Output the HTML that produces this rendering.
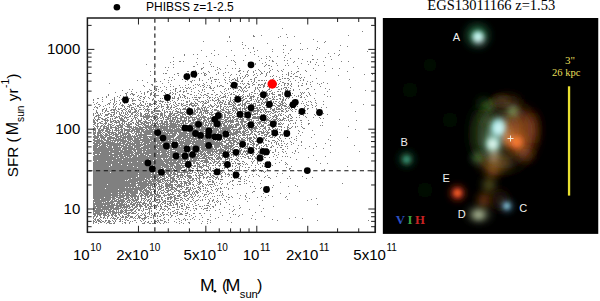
<!DOCTYPE html>
<html><head><meta charset="utf-8"><style>
html,body{margin:0;padding:0;background:#fff;}
body{width:600px;height:301px;position:relative;overflow:hidden;}
</style></head><body>

<svg width="600" height="301" viewBox="0 0 600 301" style="position:absolute;left:0;top:0">
<path d="M282 28h1v1h-1zM362 31h1v1h-1zM286 34h1v1h-1zM253 35h1v1h-1zM261 35h1v1h-1zM348 35h1v1h-1zM229 36h1v1h-1zM253 36h2v1h-2zM280 36h1v1h-1zM294 36h1v1h-1zM229 37h1v1h-1zM278 37h1v1h-1zM287 37h1v1h-1zM313 39h1v1h-1zM203 41h1v1h-1zM227 41h1v1h-1zM230 41h1v1h-1zM317 41h1v1h-1zM325 41h1v1h-1zM242 42h1v1h-1zM324 42h1v1h-1zM267 43h1v1h-1zM300 43h1v1h-1zM242 44h1v1h-1zM245 45h1v1h-1zM283 45h1v1h-1zM285 45h1v1h-1zM340 45h1v1h-1zM347 46h1v1h-1zM253 47h1v1h-1zM317 47h1v1h-1zM243 48h1v1h-1zM248 48h1v1h-1zM253 48h1v1h-1zM307 48h1v1h-1zM319 48h1v1h-1zM272 49h1v1h-1zM283 49h1v1h-1zM291 49h1v1h-1zM300 49h1v1h-1zM302 49h1v1h-1zM316 49h1v1h-1zM201 50h1v1h-1zM214 50h1v1h-1zM231 50h1v1h-1zM257 50h1v1h-1zM290 50h1v1h-1zM339 50h1v1h-1zM254 51h1v1h-1zM272 51h1v1h-1zM367 51h1v1h-1zM250 52h1v1h-1zM283 52h1v1h-1zM211 53h1v1h-1zM288 53h1v1h-1zM328 53h1v1h-1zM334 53h1v1h-1zM184 54h1v1h-1zM193 54h1v1h-1zM197 54h1v1h-1zM218 54h1v1h-1zM254 54h1v1h-1zM339 54h1v1h-1zM184 55h1v1h-1zM214 55h1v1h-1zM234 55h1v1h-1zM245 55h1v1h-1zM285 55h1v1h-1zM312 55h1v1h-1zM338 55h1v1h-1zM206 56h1v1h-1zM226 56h1v1h-1zM258 56h1v1h-1zM266 56h1v1h-1zM269 56h1v1h-1zM277 56h1v1h-1zM330 56h1v1h-1zM173 57h1v1h-1zM270 57h1v1h-1zM284 57h1v1h-1zM325 57h1v1h-1zM197 58h1v1h-1zM261 58h1v1h-1zM266 58h1v1h-1zM290 58h1v1h-1zM298 58h1v1h-1zM302 59h1v1h-1zM312 59h2v1h-2zM317 59h1v1h-1zM331 59h1v1h-1zM231 60h1v1h-1zM233 60h1v1h-1zM243 60h1v1h-1zM259 60h1v1h-1zM269 60h1v1h-1zM272 60h1v1h-1zM284 60h1v1h-1zM287 60h1v1h-1zM173 61h1v1h-1zM179 61h2v1h-2zM183 61h1v1h-1zM209 61h1v1h-1zM234 61h1v1h-1zM272 61h2v1h-2zM294 61h1v1h-1zM307 61h1v1h-1zM310 61h1v1h-1zM323 61h1v1h-1zM341 61h1v1h-1zM348 61h1v1h-1zM170 62h1v1h-1zM196 62h1v1h-1zM211 62h1v1h-1zM235 62h1v1h-1zM248 62h1v1h-1zM265 62h1v1h-1zM293 62h1v1h-1zM310 62h1v1h-1zM316 62h1v1h-1zM203 63h1v1h-1zM255 63h1v1h-1zM262 63h1v1h-1zM276 63h1v1h-1zM287 63h1v1h-1zM301 63h1v1h-1zM146 64h1v1h-1zM173 64h1v1h-1zM197 64h1v1h-1zM210 64h1v1h-1zM235 64h1v1h-1zM255 64h1v1h-1zM266 64h1v1h-1zM308 64h1v1h-1zM315 64h1v1h-1zM227 65h1v1h-1zM265 65h1v1h-1zM268 65h2v1h-2zM277 65h1v1h-1zM285 65h1v1h-1zM288 65h1v1h-1zM318 65h1v1h-1zM324 65h1v1h-1zM193 66h2v1h-2zM211 66h1v1h-1zM213 66h1v1h-1zM253 66h1v1h-1zM264 66h1v1h-1zM271 66h1v1h-1zM297 66h1v1h-1zM165 67h1v1h-1zM168 67h1v1h-1zM173 67h1v1h-1zM203 67h1v1h-1zM217 67h1v1h-1zM353 67h1v1h-1zM154 68h1v1h-1zM201 68h2v1h-2zM219 68h1v1h-1zM225 68h1v1h-1zM232 68h1v1h-1zM235 68h1v1h-1zM239 68h1v1h-1zM269 68h1v1h-1zM298 68h1v1h-1zM313 68h1v1h-1zM332 68h1v1h-1zM339 68h1v1h-1zM201 69h1v1h-1zM217 69h1v1h-1zM220 69h1v1h-1zM258 69h1v1h-1zM272 69h1v1h-1zM283 69h1v1h-1zM167 70h1v1h-1zM195 70h1v1h-1zM215 70h1v1h-1zM239 70h2v1h-2zM248 70h1v1h-1zM255 70h1v1h-1zM259 70h1v1h-1zM270 70h1v1h-1zM277 70h1v1h-1zM281 70h1v1h-1zM305 70h1v1h-1zM315 70h1v1h-1zM150 71h1v1h-1zM187 71h2v1h-2zM208 71h1v1h-1zM238 71h2v1h-2zM243 71h1v1h-1zM247 71h1v1h-1zM253 71h1v1h-1zM260 71h1v1h-1zM264 71h1v1h-1zM269 71h1v1h-1zM278 71h1v1h-1zM282 71h1v1h-1zM291 71h1v1h-1zM297 71h2v1h-2zM306 71h1v1h-1zM325 71h1v1h-1zM347 71h1v1h-1zM203 72h1v1h-1zM209 72h1v1h-1zM218 72h1v1h-1zM225 72h1v1h-1zM228 72h1v1h-1zM247 72h1v1h-1zM253 72h1v1h-1zM261 72h1v1h-1zM267 72h1v1h-1zM269 72h1v1h-1zM288 72h1v1h-1zM296 72h1v1h-1zM163 73h1v1h-1zM165 73h2v1h-2zM177 73h2v1h-2zM186 73h1v1h-1zM188 73h1v1h-1zM198 73h1v1h-1zM201 73h1v1h-1zM204 73h2v1h-2zM218 73h1v1h-1zM223 73h1v1h-1zM240 73h1v1h-1zM256 73h1v1h-1zM261 73h2v1h-2zM266 73h1v1h-1zM288 73h1v1h-1zM291 73h1v1h-1zM294 73h1v1h-1zM174 74h1v1h-1zM204 74h1v1h-1zM206 74h1v1h-1zM216 74h1v1h-1zM231 74h1v1h-1zM236 74h1v1h-1zM246 74h2v1h-2zM254 74h1v1h-1zM260 74h1v1h-1zM266 74h1v1h-1zM282 74h1v1h-1zM286 74h1v1h-1zM288 74h1v1h-1zM293 74h1v1h-1zM300 74h1v1h-1zM364 74h1v1h-1zM372 74h1v1h-1zM150 75h1v1h-1zM178 75h1v1h-1zM204 75h2v1h-2zM223 75h1v1h-1zM230 75h1v1h-1zM239 75h1v1h-1zM245 75h1v1h-1zM248 75h1v1h-1zM253 75h1v1h-1zM257 75h1v1h-1zM266 75h1v1h-1zM273 75h1v1h-1zM288 75h1v1h-1zM310 75h1v1h-1zM338 75h1v1h-1zM189 76h1v1h-1zM242 76h1v1h-1zM245 76h1v1h-1zM247 76h1v1h-1zM265 76h1v1h-1zM270 76h1v1h-1zM272 76h1v1h-1zM276 76h1v1h-1zM282 76h1v1h-1zM290 76h2v1h-2zM295 76h3v1h-3zM169 77h1v1h-1zM172 77h1v1h-1zM194 77h2v1h-2zM210 77h1v1h-1zM212 77h1v1h-1zM225 77h1v1h-1zM229 77h1v1h-1zM237 77h1v1h-1zM240 77h1v1h-1zM244 77h1v1h-1zM255 77h2v1h-2zM279 77h1v1h-1zM299 77h1v1h-1zM301 77h1v1h-1zM304 77h1v1h-1zM154 78h1v1h-1zM199 78h1v1h-1zM210 78h1v1h-1zM234 78h1v1h-1zM237 78h1v1h-1zM240 78h1v1h-1zM243 78h1v1h-1zM254 78h1v1h-1zM273 78h1v1h-1zM282 78h1v1h-1zM284 78h2v1h-2zM287 78h2v1h-2zM293 78h1v1h-1zM300 78h1v1h-1zM316 78h1v1h-1zM164 79h1v1h-1zM174 79h1v1h-1zM182 79h1v1h-1zM199 79h1v1h-1zM208 79h1v1h-1zM214 79h3v1h-3zM218 79h1v1h-1zM224 79h1v1h-1zM229 79h1v1h-1zM232 79h2v1h-2zM235 79h1v1h-1zM237 79h1v1h-1zM250 79h2v1h-2zM254 79h1v1h-1zM272 79h1v1h-1zM279 79h2v1h-2zM289 79h1v1h-1zM303 79h1v1h-1zM349 79h1v1h-1zM137 80h1v1h-1zM142 80h1v1h-1zM168 80h1v1h-1zM171 80h1v1h-1zM187 80h1v1h-1zM192 80h1v1h-1zM194 80h1v1h-1zM199 80h1v1h-1zM202 80h1v1h-1zM211 80h1v1h-1zM225 80h1v1h-1zM231 80h1v1h-1zM235 80h3v1h-3zM242 80h1v1h-1zM254 80h1v1h-1zM258 80h2v1h-2zM261 80h2v1h-2zM264 80h1v1h-1zM266 80h1v1h-1zM270 80h1v1h-1zM277 80h1v1h-1zM288 80h1v1h-1zM295 80h1v1h-1zM300 80h1v1h-1zM303 80h1v1h-1zM156 81h1v1h-1zM160 81h1v1h-1zM185 81h1v1h-1zM190 81h2v1h-2zM211 81h1v1h-1zM215 81h1v1h-1zM229 81h1v1h-1zM237 81h2v1h-2zM241 81h2v1h-2zM248 81h1v1h-1zM251 81h1v1h-1zM254 81h1v1h-1zM280 81h1v1h-1zM290 81h1v1h-1zM307 81h1v1h-1zM312 81h1v1h-1zM147 82h1v1h-1zM168 82h1v1h-1zM191 82h1v1h-1zM206 82h1v1h-1zM219 82h1v1h-1zM225 82h1v1h-1zM230 82h1v1h-1zM253 82h1v1h-1zM256 82h1v1h-1zM265 82h1v1h-1zM268 82h1v1h-1zM271 82h2v1h-2zM282 82h2v1h-2zM298 82h1v1h-1zM310 82h1v1h-1zM323 82h1v1h-1zM109 83h1v1h-1zM162 83h1v1h-1zM203 83h1v1h-1zM211 83h1v1h-1zM227 83h1v1h-1zM234 83h1v1h-1zM237 83h1v1h-1zM240 83h1v1h-1zM242 83h1v1h-1zM244 83h1v1h-1zM247 83h2v1h-2zM252 83h1v1h-1zM264 83h2v1h-2zM276 83h1v1h-1zM279 83h1v1h-1zM284 83h2v1h-2zM287 83h2v1h-2zM291 83h1v1h-1zM302 83h1v1h-1zM306 83h1v1h-1zM317 83h1v1h-1zM321 83h1v1h-1zM327 83h1v1h-1zM151 84h2v1h-2zM170 84h1v1h-1zM188 84h1v1h-1zM195 84h1v1h-1zM197 84h1v1h-1zM199 84h1v1h-1zM204 84h1v1h-1zM231 84h2v1h-2zM237 84h1v1h-1zM243 84h1v1h-1zM248 84h2v1h-2zM253 84h2v1h-2zM258 84h2v1h-2zM261 84h2v1h-2zM264 84h1v1h-1zM269 84h1v1h-1zM271 84h1v1h-1zM276 84h1v1h-1zM278 84h1v1h-1zM284 84h1v1h-1zM288 84h1v1h-1zM291 84h1v1h-1zM306 84h1v1h-1zM310 84h1v1h-1zM319 84h1v1h-1zM143 85h1v1h-1zM152 85h1v1h-1zM179 85h1v1h-1zM185 85h1v1h-1zM193 85h1v1h-1zM198 85h1v1h-1zM202 85h2v1h-2zM207 85h1v1h-1zM209 85h1v1h-1zM217 85h1v1h-1zM220 85h2v1h-2zM230 85h2v1h-2zM234 85h3v1h-3zM246 85h1v1h-1zM252 85h1v1h-1zM258 85h1v1h-1zM260 85h1v1h-1zM263 85h2v1h-2zM268 85h1v1h-1zM270 85h1v1h-1zM272 85h1v1h-1zM275 85h1v1h-1zM281 85h1v1h-1zM284 85h1v1h-1zM287 85h1v1h-1zM290 85h1v1h-1zM298 85h1v1h-1zM301 85h2v1h-2zM144 86h1v1h-1zM156 86h2v1h-2zM164 86h1v1h-1zM170 86h1v1h-1zM173 86h1v1h-1zM200 86h1v1h-1zM204 86h1v1h-1zM210 86h1v1h-1zM217 86h1v1h-1zM219 86h1v1h-1zM222 86h2v1h-2zM230 86h3v1h-3zM238 86h3v1h-3zM245 86h1v1h-1zM249 86h1v1h-1zM263 86h2v1h-2zM267 86h1v1h-1zM275 86h1v1h-1zM278 86h1v1h-1zM291 86h1v1h-1zM298 86h1v1h-1zM311 86h1v1h-1zM320 86h1v1h-1zM160 87h1v1h-1zM166 87h1v1h-1zM180 87h1v1h-1zM182 87h1v1h-1zM185 87h1v1h-1zM188 87h1v1h-1zM190 87h1v1h-1zM195 87h1v1h-1zM203 87h1v1h-1zM206 87h1v1h-1zM209 87h2v1h-2zM214 87h1v1h-1zM232 87h2v1h-2zM237 87h1v1h-1zM240 87h2v1h-2zM244 87h2v1h-2zM248 87h2v1h-2zM255 87h1v1h-1zM257 87h1v1h-1zM259 87h2v1h-2zM263 87h1v1h-1zM271 87h1v1h-1zM273 87h1v1h-1zM276 87h2v1h-2zM284 87h3v1h-3zM288 87h1v1h-1zM350 87h1v1h-1zM156 88h1v1h-1zM175 88h2v1h-2zM186 88h2v1h-2zM189 88h1v1h-1zM193 88h1v1h-1zM210 88h2v1h-2zM213 88h1v1h-1zM225 88h1v1h-1zM228 88h1v1h-1zM230 88h1v1h-1zM235 88h3v1h-3zM241 88h1v1h-1zM243 88h1v1h-1zM246 88h1v1h-1zM255 88h1v1h-1zM257 88h1v1h-1zM269 88h1v1h-1zM281 88h1v1h-1zM283 88h1v1h-1zM286 88h1v1h-1zM290 88h1v1h-1zM307 88h2v1h-2zM325 88h1v1h-1zM129 89h1v1h-1zM132 89h1v1h-1zM149 89h1v1h-1zM154 89h1v1h-1zM156 89h1v1h-1zM158 89h1v1h-1zM166 89h1v1h-1zM173 89h1v1h-1zM175 89h1v1h-1zM183 89h1v1h-1zM191 89h1v1h-1zM202 89h1v1h-1zM204 89h1v1h-1zM224 89h1v1h-1zM228 89h1v1h-1zM233 89h1v1h-1zM239 89h1v1h-1zM242 89h1v1h-1zM255 89h1v1h-1zM258 89h1v1h-1zM268 89h2v1h-2zM278 89h2v1h-2zM281 89h1v1h-1zM285 89h1v1h-1zM287 89h1v1h-1zM293 89h1v1h-1zM299 89h1v1h-1zM306 89h1v1h-1zM314 89h1v1h-1zM329 89h1v1h-1zM122 90h1v1h-1zM150 90h2v1h-2zM155 90h2v1h-2zM162 90h1v1h-1zM170 90h1v1h-1zM175 90h1v1h-1zM180 90h1v1h-1zM186 90h1v1h-1zM198 90h1v1h-1zM202 90h1v1h-1zM212 90h2v1h-2zM226 90h1v1h-1zM238 90h1v1h-1zM240 90h1v1h-1zM242 90h1v1h-1zM244 90h1v1h-1zM247 90h1v1h-1zM254 90h1v1h-1zM259 90h1v1h-1zM262 90h1v1h-1zM267 90h1v1h-1zM271 90h1v1h-1zM285 90h3v1h-3zM289 90h2v1h-2zM293 90h1v1h-1zM365 90h1v1h-1zM131 91h1v1h-1zM140 91h1v1h-1zM147 91h2v1h-2zM154 91h1v1h-1zM158 91h1v1h-1zM161 91h1v1h-1zM175 91h1v1h-1zM179 91h2v1h-2zM183 91h2v1h-2zM186 91h1v1h-1zM191 91h1v1h-1zM199 91h1v1h-1zM204 91h1v1h-1zM220 91h1v1h-1zM224 91h1v1h-1zM235 91h1v1h-1zM241 91h1v1h-1zM243 91h1v1h-1zM245 91h2v1h-2zM254 91h1v1h-1zM259 91h1v1h-1zM266 91h1v1h-1zM269 91h2v1h-2zM277 91h2v1h-2zM280 91h1v1h-1zM288 91h1v1h-1zM327 91h1v1h-1zM115 92h1v1h-1zM127 92h1v1h-1zM136 92h1v1h-1zM144 92h1v1h-1zM147 92h1v1h-1zM151 92h1v1h-1zM153 92h1v1h-1zM164 92h1v1h-1zM170 92h1v1h-1zM172 92h1v1h-1zM177 92h1v1h-1zM183 92h1v1h-1zM194 92h1v1h-1zM201 92h1v1h-1zM214 92h1v1h-1zM221 92h1v1h-1zM229 92h1v1h-1zM233 92h1v1h-1zM237 92h1v1h-1zM243 92h1v1h-1zM251 92h2v1h-2zM262 92h2v1h-2zM266 92h1v1h-1zM272 92h1v1h-1zM274 92h1v1h-1zM282 92h1v1h-1zM289 92h1v1h-1zM300 92h1v1h-1zM302 92h1v1h-1zM304 92h1v1h-1zM308 92h1v1h-1zM125 93h2v1h-2zM131 93h2v1h-2zM141 93h1v1h-1zM144 93h1v1h-1zM150 93h2v1h-2zM155 93h1v1h-1zM165 93h1v1h-1zM169 93h2v1h-2zM173 93h1v1h-1zM175 93h1v1h-1zM187 93h2v1h-2zM198 93h1v1h-1zM207 93h2v1h-2zM222 93h1v1h-1zM225 93h1v1h-1zM227 93h1v1h-1zM231 93h1v1h-1zM249 93h1v1h-1zM254 93h2v1h-2zM257 93h1v1h-1zM260 93h1v1h-1zM262 93h1v1h-1zM266 93h2v1h-2zM269 93h1v1h-1zM271 93h2v1h-2zM282 93h1v1h-1zM286 93h1v1h-1zM292 93h1v1h-1zM301 93h1v1h-1zM303 93h1v1h-1zM309 93h1v1h-1zM315 93h1v1h-1zM108 94h1v1h-1zM126 94h1v1h-1zM130 94h1v1h-1zM132 94h3v1h-3zM144 94h1v1h-1zM150 94h2v1h-2zM172 94h1v1h-1zM175 94h1v1h-1zM179 94h1v1h-1zM182 94h1v1h-1zM190 94h2v1h-2zM200 94h1v1h-1zM204 94h2v1h-2zM211 94h2v1h-2zM216 94h2v1h-2zM224 94h1v1h-1zM230 94h2v1h-2zM233 94h2v1h-2zM239 94h1v1h-1zM243 94h1v1h-1zM249 94h1v1h-1zM251 94h1v1h-1zM259 94h1v1h-1zM265 94h1v1h-1zM267 94h1v1h-1zM269 94h1v1h-1zM272 94h3v1h-3zM278 94h3v1h-3zM282 94h1v1h-1zM301 94h1v1h-1zM309 94h1v1h-1zM324 94h1v1h-1zM108 95h1v1h-1zM120 95h1v1h-1zM126 95h1v1h-1zM133 95h1v1h-1zM138 95h1v1h-1zM150 95h1v1h-1zM153 95h1v1h-1zM156 95h3v1h-3zM163 95h2v1h-2zM167 95h1v1h-1zM179 95h1v1h-1zM183 95h2v1h-2zM194 95h1v1h-1zM196 95h1v1h-1zM201 95h1v1h-1zM203 95h1v1h-1zM206 95h2v1h-2zM215 95h1v1h-1zM220 95h1v1h-1zM225 95h1v1h-1zM228 95h1v1h-1zM235 95h2v1h-2zM238 95h1v1h-1zM242 95h1v1h-1zM247 95h1v1h-1zM249 95h1v1h-1zM253 95h1v1h-1zM258 95h1v1h-1zM266 95h3v1h-3zM278 95h3v1h-3zM285 95h2v1h-2zM288 95h1v1h-1zM290 95h2v1h-2zM294 95h1v1h-1zM298 95h1v1h-1zM300 95h1v1h-1zM306 95h1v1h-1zM310 95h1v1h-1zM106 96h1v1h-1zM117 96h1v1h-1zM123 96h1v1h-1zM126 96h2v1h-2zM137 96h1v1h-1zM140 96h2v1h-2zM145 96h1v1h-1zM166 96h1v1h-1zM169 96h2v1h-2zM174 96h1v1h-1zM180 96h1v1h-1zM184 96h2v1h-2zM208 96h1v1h-1zM219 96h1v1h-1zM223 96h3v1h-3zM235 96h3v1h-3zM240 96h2v1h-2zM243 96h1v1h-1zM245 96h1v1h-1zM247 96h2v1h-2zM250 96h5v1h-5zM260 96h2v1h-2zM263 96h1v1h-1zM267 96h1v1h-1zM272 96h1v1h-1zM274 96h1v1h-1zM276 96h1v1h-1zM280 96h1v1h-1zM282 96h1v1h-1zM285 96h1v1h-1zM296 96h1v1h-1zM298 96h1v1h-1zM301 96h1v1h-1zM307 96h1v1h-1zM327 96h1v1h-1zM330 96h1v1h-1zM102 97h1v1h-1zM106 97h1v1h-1zM114 97h1v1h-1zM119 97h1v1h-1zM125 97h2v1h-2zM139 97h1v1h-1zM143 97h2v1h-2zM148 97h1v1h-1zM155 97h1v1h-1zM169 97h1v1h-1zM172 97h1v1h-1zM174 97h1v1h-1zM178 97h1v1h-1zM180 97h1v1h-1zM182 97h1v1h-1zM184 97h1v1h-1zM187 97h1v1h-1zM192 97h1v1h-1zM194 97h3v1h-3zM198 97h3v1h-3zM203 97h1v1h-1zM207 97h1v1h-1zM209 97h2v1h-2zM212 97h1v1h-1zM215 97h1v1h-1zM217 97h1v1h-1zM221 97h3v1h-3zM225 97h1v1h-1zM227 97h1v1h-1zM230 97h1v1h-1zM234 97h1v1h-1zM236 97h1v1h-1zM238 97h1v1h-1zM242 97h2v1h-2zM250 97h2v1h-2zM253 97h1v1h-1zM257 97h2v1h-2zM262 97h2v1h-2zM268 97h1v1h-1zM272 97h1v1h-1zM274 97h1v1h-1zM283 97h1v1h-1zM289 97h1v1h-1zM292 97h1v1h-1zM300 97h2v1h-2zM304 97h1v1h-1zM97 98h2v1h-2zM114 98h1v1h-1zM122 98h1v1h-1zM126 98h1v1h-1zM129 98h1v1h-1zM131 98h1v1h-1zM133 98h1v1h-1zM140 98h1v1h-1zM144 98h1v1h-1zM149 98h1v1h-1zM153 98h1v1h-1zM160 98h1v1h-1zM162 98h1v1h-1zM172 98h3v1h-3zM177 98h2v1h-2zM185 98h1v1h-1zM187 98h1v1h-1zM189 98h1v1h-1zM199 98h1v1h-1zM209 98h1v1h-1zM214 98h1v1h-1zM218 98h1v1h-1zM220 98h1v1h-1zM230 98h1v1h-1zM236 98h1v1h-1zM241 98h2v1h-2zM245 98h2v1h-2zM249 98h3v1h-3zM257 98h1v1h-1zM260 98h1v1h-1zM263 98h2v1h-2zM266 98h2v1h-2zM269 98h2v1h-2zM273 98h1v1h-1zM279 98h2v1h-2zM283 98h1v1h-1zM286 98h1v1h-1zM288 98h1v1h-1zM314 98h1v1h-1zM93 99h1v1h-1zM102 99h1v1h-1zM112 99h1v1h-1zM114 99h1v1h-1zM121 99h1v1h-1zM123 99h1v1h-1zM128 99h1v1h-1zM132 99h1v1h-1zM138 99h1v1h-1zM143 99h1v1h-1zM152 99h2v1h-2zM166 99h1v1h-1zM178 99h1v1h-1zM193 99h1v1h-1zM195 99h3v1h-3zM207 99h1v1h-1zM212 99h1v1h-1zM217 99h2v1h-2zM226 99h1v1h-1zM230 99h1v1h-1zM233 99h2v1h-2zM236 99h1v1h-1zM238 99h1v1h-1zM243 99h2v1h-2zM251 99h1v1h-1zM253 99h1v1h-1zM255 99h1v1h-1zM257 99h1v1h-1zM260 99h2v1h-2zM263 99h1v1h-1zM265 99h3v1h-3zM272 99h3v1h-3zM276 99h2v1h-2zM280 99h1v1h-1zM282 99h2v1h-2zM285 99h1v1h-1zM305 99h1v1h-1zM93 100h1v1h-1zM110 100h1v1h-1zM114 100h1v1h-1zM119 100h1v1h-1zM122 100h1v1h-1zM127 100h1v1h-1zM132 100h4v1h-4zM139 100h2v1h-2zM152 100h1v1h-1zM154 100h1v1h-1zM158 100h1v1h-1zM160 100h1v1h-1zM169 100h1v1h-1zM172 100h1v1h-1zM177 100h1v1h-1zM181 100h1v1h-1zM183 100h1v1h-1zM189 100h1v1h-1zM197 100h1v1h-1zM205 100h1v1h-1zM208 100h1v1h-1zM210 100h1v1h-1zM212 100h2v1h-2zM215 100h2v1h-2zM218 100h2v1h-2zM222 100h2v1h-2zM228 100h1v1h-1zM230 100h1v1h-1zM232 100h1v1h-1zM234 100h1v1h-1zM236 100h2v1h-2zM239 100h1v1h-1zM241 100h3v1h-3zM247 100h1v1h-1zM250 100h2v1h-2zM256 100h1v1h-1zM258 100h2v1h-2zM262 100h1v1h-1zM266 100h2v1h-2zM270 100h2v1h-2zM282 100h2v1h-2zM285 100h1v1h-1zM292 100h1v1h-1zM294 100h1v1h-1zM315 100h1v1h-1zM102 101h1v1h-1zM114 101h1v1h-1zM116 101h1v1h-1zM124 101h1v1h-1zM132 101h1v1h-1zM142 101h2v1h-2zM146 101h1v1h-1zM155 101h2v1h-2zM159 101h5v1h-5zM167 101h1v1h-1zM170 101h1v1h-1zM174 101h1v1h-1zM186 101h2v1h-2zM189 101h1v1h-1zM194 101h1v1h-1zM198 101h2v1h-2zM201 101h3v1h-3zM206 101h1v1h-1zM208 101h1v1h-1zM214 101h1v1h-1zM218 101h1v1h-1zM220 101h1v1h-1zM223 101h1v1h-1zM225 101h1v1h-1zM229 101h2v1h-2zM233 101h4v1h-4zM239 101h2v1h-2zM242 101h1v1h-1zM246 101h4v1h-4zM254 101h1v1h-1zM256 101h1v1h-1zM258 101h1v1h-1zM262 101h1v1h-1zM265 101h4v1h-4zM270 101h2v1h-2zM273 101h1v1h-1zM275 101h2v1h-2zM279 101h1v1h-1zM281 101h2v1h-2zM302 101h1v1h-1zM308 101h1v1h-1zM310 101h1v1h-1zM323 101h1v1h-1zM93 102h1v1h-1zM97 102h1v1h-1zM110 102h1v1h-1zM114 102h1v1h-1zM120 102h1v1h-1zM127 102h1v1h-1zM140 102h1v1h-1zM143 102h1v1h-1zM156 102h1v1h-1zM162 102h1v1h-1zM165 102h1v1h-1zM167 102h2v1h-2zM173 102h1v1h-1zM175 102h1v1h-1zM186 102h2v1h-2zM191 102h1v1h-1zM195 102h1v1h-1zM200 102h1v1h-1zM203 102h1v1h-1zM205 102h1v1h-1zM207 102h2v1h-2zM217 102h1v1h-1zM219 102h4v1h-4zM225 102h1v1h-1zM228 102h2v1h-2zM231 102h1v1h-1zM233 102h2v1h-2zM242 102h1v1h-1zM245 102h2v1h-2zM257 102h3v1h-3zM261 102h1v1h-1zM263 102h4v1h-4zM268 102h2v1h-2zM273 102h1v1h-1zM278 102h1v1h-1zM281 102h2v1h-2zM284 102h1v1h-1zM306 102h1v1h-1zM311 102h1v1h-1zM315 102h1v1h-1zM351 102h1v1h-1zM96 103h1v1h-1zM108 103h2v1h-2zM113 103h1v1h-1zM116 103h1v1h-1zM120 103h1v1h-1zM124 103h1v1h-1zM132 103h3v1h-3zM140 103h1v1h-1zM145 103h1v1h-1zM147 103h1v1h-1zM149 103h2v1h-2zM153 103h3v1h-3zM159 103h2v1h-2zM170 103h1v1h-1zM175 103h1v1h-1zM178 103h2v1h-2zM181 103h1v1h-1zM183 103h1v1h-1zM190 103h4v1h-4zM195 103h3v1h-3zM202 103h1v1h-1zM204 103h3v1h-3zM214 103h1v1h-1zM217 103h1v1h-1zM219 103h1v1h-1zM222 103h1v1h-1zM224 103h1v1h-1zM228 103h2v1h-2zM232 103h1v1h-1zM234 103h2v1h-2zM240 103h1v1h-1zM242 103h1v1h-1zM244 103h2v1h-2zM247 103h3v1h-3zM251 103h1v1h-1zM253 103h3v1h-3zM261 103h2v1h-2zM264 103h1v1h-1zM271 103h2v1h-2zM274 103h2v1h-2zM279 103h2v1h-2zM282 103h2v1h-2zM285 103h1v1h-1zM301 103h1v1h-1zM303 103h1v1h-1zM316 103h1v1h-1zM94 104h1v1h-1zM98 104h2v1h-2zM107 104h1v1h-1zM109 104h1v1h-1zM113 104h1v1h-1zM115 104h1v1h-1zM119 104h1v1h-1zM122 104h1v1h-1zM128 104h1v1h-1zM130 104h1v1h-1zM133 104h1v1h-1zM135 104h1v1h-1zM139 104h1v1h-1zM141 104h1v1h-1zM145 104h1v1h-1zM149 104h4v1h-4zM154 104h1v1h-1zM156 104h1v1h-1zM161 104h1v1h-1zM164 104h1v1h-1zM166 104h2v1h-2zM169 104h1v1h-1zM173 104h1v1h-1zM176 104h1v1h-1zM181 104h2v1h-2zM186 104h2v1h-2zM189 104h3v1h-3zM194 104h1v1h-1zM197 104h1v1h-1zM203 104h1v1h-1zM210 104h1v1h-1zM215 104h1v1h-1zM220 104h2v1h-2zM224 104h3v1h-3zM228 104h4v1h-4zM233 104h1v1h-1zM235 104h1v1h-1zM238 104h3v1h-3zM242 104h4v1h-4zM250 104h4v1h-4zM255 104h1v1h-1zM259 104h1v1h-1zM261 104h1v1h-1zM263 104h1v1h-1zM266 104h1v1h-1zM270 104h2v1h-2zM276 104h1v1h-1zM280 104h3v1h-3zM286 104h1v1h-1zM289 104h1v1h-1zM292 104h2v1h-2zM296 104h1v1h-1zM306 104h1v1h-1zM311 104h1v1h-1zM323 104h1v1h-1zM363 104h1v1h-1zM100 105h1v1h-1zM105 105h1v1h-1zM114 105h1v1h-1zM121 105h3v1h-3zM129 105h3v1h-3zM137 105h2v1h-2zM140 105h4v1h-4zM147 105h1v1h-1zM149 105h2v1h-2zM158 105h1v1h-1zM161 105h1v1h-1zM167 105h1v1h-1zM171 105h1v1h-1zM174 105h1v1h-1zM177 105h2v1h-2zM181 105h1v1h-1zM183 105h3v1h-3zM189 105h1v1h-1zM191 105h6v1h-6zM198 105h1v1h-1zM202 105h2v1h-2zM208 105h1v1h-1zM210 105h2v1h-2zM214 105h1v1h-1zM216 105h1v1h-1zM218 105h1v1h-1zM220 105h1v1h-1zM232 105h3v1h-3zM237 105h3v1h-3zM241 105h2v1h-2zM244 105h2v1h-2zM250 105h2v1h-2zM253 105h1v1h-1zM255 105h1v1h-1zM257 105h4v1h-4zM265 105h2v1h-2zM268 105h7v1h-7zM277 105h4v1h-4zM282 105h4v1h-4zM289 105h1v1h-1zM304 105h1v1h-1zM307 105h2v1h-2zM312 105h1v1h-1zM316 105h1v1h-1zM95 106h1v1h-1zM99 106h1v1h-1zM103 106h1v1h-1zM113 106h1v1h-1zM116 106h1v1h-1zM122 106h1v1h-1zM124 106h1v1h-1zM127 106h3v1h-3zM135 106h1v1h-1zM137 106h2v1h-2zM144 106h1v1h-1zM146 106h3v1h-3zM151 106h1v1h-1zM154 106h1v1h-1zM157 106h1v1h-1zM159 106h1v1h-1zM161 106h3v1h-3zM167 106h2v1h-2zM171 106h1v1h-1zM175 106h2v1h-2zM182 106h1v1h-1zM186 106h2v1h-2zM192 106h2v1h-2zM195 106h1v1h-1zM202 106h1v1h-1zM205 106h1v1h-1zM209 106h1v1h-1zM211 106h3v1h-3zM217 106h2v1h-2zM220 106h2v1h-2zM224 106h2v1h-2zM227 106h1v1h-1zM229 106h3v1h-3zM233 106h1v1h-1zM235 106h1v1h-1zM242 106h1v1h-1zM244 106h1v1h-1zM246 106h1v1h-1zM252 106h4v1h-4zM262 106h1v1h-1zM268 106h1v1h-1zM271 106h1v1h-1zM275 106h1v1h-1zM278 106h2v1h-2zM281 106h1v1h-1zM284 106h3v1h-3zM288 106h1v1h-1zM290 106h1v1h-1zM295 106h1v1h-1zM297 106h1v1h-1zM305 106h1v1h-1zM315 106h1v1h-1zM94 107h1v1h-1zM96 107h2v1h-2zM109 107h1v1h-1zM113 107h1v1h-1zM115 107h1v1h-1zM124 107h1v1h-1zM129 107h1v1h-1zM131 107h3v1h-3zM139 107h2v1h-2zM143 107h1v1h-1zM148 107h1v1h-1zM156 107h1v1h-1zM158 107h1v1h-1zM161 107h1v1h-1zM166 107h3v1h-3zM170 107h2v1h-2zM173 107h2v1h-2zM185 107h1v1h-1zM188 107h2v1h-2zM197 107h2v1h-2zM201 107h1v1h-1zM203 107h3v1h-3zM207 107h2v1h-2zM212 107h1v1h-1zM216 107h2v1h-2zM220 107h1v1h-1zM223 107h1v1h-1zM226 107h1v1h-1zM228 107h1v1h-1zM233 107h2v1h-2zM236 107h1v1h-1zM240 107h1v1h-1zM244 107h1v1h-1zM246 107h3v1h-3zM250 107h1v1h-1zM252 107h2v1h-2zM256 107h2v1h-2zM259 107h2v1h-2zM263 107h2v1h-2zM266 107h5v1h-5zM276 107h2v1h-2zM281 107h1v1h-1zM287 107h1v1h-1zM289 107h1v1h-1zM291 107h1v1h-1zM304 107h1v1h-1zM312 107h1v1h-1zM321 107h1v1h-1zM326 107h1v1h-1zM97 108h1v1h-1zM104 108h1v1h-1zM106 108h1v1h-1zM115 108h1v1h-1zM118 108h1v1h-1zM120 108h2v1h-2zM125 108h1v1h-1zM127 108h1v1h-1zM131 108h1v1h-1zM134 108h1v1h-1zM136 108h1v1h-1zM144 108h1v1h-1zM147 108h1v1h-1zM155 108h3v1h-3zM163 108h1v1h-1zM167 108h1v1h-1zM170 108h1v1h-1zM176 108h2v1h-2zM179 108h1v1h-1zM183 108h3v1h-3zM187 108h2v1h-2zM194 108h1v1h-1zM197 108h3v1h-3zM201 108h2v1h-2zM204 108h1v1h-1zM206 108h1v1h-1zM210 108h1v1h-1zM220 108h1v1h-1zM223 108h1v1h-1zM225 108h1v1h-1zM232 108h5v1h-5zM238 108h3v1h-3zM242 108h5v1h-5zM250 108h1v1h-1zM254 108h4v1h-4zM259 108h1v1h-1zM264 108h1v1h-1zM270 108h2v1h-2zM274 108h1v1h-1zM276 108h1v1h-1zM278 108h2v1h-2zM281 108h2v1h-2zM285 108h2v1h-2zM288 108h2v1h-2zM291 108h1v1h-1zM294 108h1v1h-1zM304 108h1v1h-1zM307 108h2v1h-2zM316 108h1v1h-1zM93 109h1v1h-1zM102 109h2v1h-2zM106 109h1v1h-1zM111 109h5v1h-5zM118 109h2v1h-2zM123 109h2v1h-2zM126 109h1v1h-1zM129 109h1v1h-1zM131 109h2v1h-2zM134 109h2v1h-2zM139 109h3v1h-3zM143 109h1v1h-1zM145 109h5v1h-5zM151 109h1v1h-1zM162 109h1v1h-1zM166 109h1v1h-1zM168 109h2v1h-2zM171 109h1v1h-1zM175 109h1v1h-1zM178 109h1v1h-1zM180 109h1v1h-1zM182 109h8v1h-8zM191 109h1v1h-1zM194 109h1v1h-1zM196 109h5v1h-5zM202 109h1v1h-1zM204 109h1v1h-1zM206 109h1v1h-1zM212 109h1v1h-1zM214 109h3v1h-3zM221 109h3v1h-3zM226 109h3v1h-3zM230 109h1v1h-1zM232 109h1v1h-1zM235 109h3v1h-3zM239 109h2v1h-2zM242 109h1v1h-1zM244 109h2v1h-2zM250 109h1v1h-1zM252 109h2v1h-2zM257 109h2v1h-2zM260 109h3v1h-3zM264 109h3v1h-3zM270 109h1v1h-1zM272 109h3v1h-3zM276 109h5v1h-5zM283 109h1v1h-1zM285 109h1v1h-1zM290 109h1v1h-1zM292 109h1v1h-1zM295 109h2v1h-2zM300 109h1v1h-1zM307 109h1v1h-1zM316 109h1v1h-1zM96 110h1v1h-1zM102 110h1v1h-1zM105 110h2v1h-2zM110 110h2v1h-2zM113 110h2v1h-2zM116 110h1v1h-1zM121 110h2v1h-2zM125 110h1v1h-1zM128 110h1v1h-1zM130 110h1v1h-1zM135 110h2v1h-2zM138 110h1v1h-1zM145 110h1v1h-1zM147 110h2v1h-2zM153 110h1v1h-1zM156 110h4v1h-4zM162 110h1v1h-1zM164 110h1v1h-1zM173 110h1v1h-1zM176 110h1v1h-1zM180 110h1v1h-1zM186 110h3v1h-3zM192 110h1v1h-1zM194 110h2v1h-2zM197 110h1v1h-1zM200 110h1v1h-1zM202 110h7v1h-7zM211 110h1v1h-1zM214 110h5v1h-5zM220 110h1v1h-1zM222 110h3v1h-3zM228 110h1v1h-1zM232 110h3v1h-3zM236 110h2v1h-2zM240 110h1v1h-1zM242 110h1v1h-1zM245 110h2v1h-2zM249 110h1v1h-1zM253 110h7v1h-7zM261 110h1v1h-1zM263 110h1v1h-1zM265 110h1v1h-1zM272 110h3v1h-3zM281 110h2v1h-2zM286 110h1v1h-1zM288 110h1v1h-1zM291 110h1v1h-1zM305 110h1v1h-1zM320 110h1v1h-1zM96 111h1v1h-1zM102 111h1v1h-1zM105 111h1v1h-1zM107 111h2v1h-2zM114 111h1v1h-1zM117 111h2v1h-2zM122 111h1v1h-1zM126 111h1v1h-1zM128 111h3v1h-3zM134 111h3v1h-3zM138 111h1v1h-1zM144 111h1v1h-1zM146 111h1v1h-1zM148 111h2v1h-2zM151 111h2v1h-2zM156 111h5v1h-5zM164 111h1v1h-1zM166 111h2v1h-2zM169 111h2v1h-2zM172 111h1v1h-1zM175 111h4v1h-4zM180 111h1v1h-1zM184 111h1v1h-1zM186 111h3v1h-3zM192 111h1v1h-1zM194 111h2v1h-2zM197 111h1v1h-1zM200 111h2v1h-2zM204 111h4v1h-4zM212 111h1v1h-1zM217 111h5v1h-5zM225 111h2v1h-2zM228 111h3v1h-3zM233 111h1v1h-1zM235 111h1v1h-1zM237 111h9v1h-9zM248 111h8v1h-8zM257 111h2v1h-2zM260 111h1v1h-1zM263 111h1v1h-1zM265 111h6v1h-6zM273 111h1v1h-1zM275 111h2v1h-2zM278 111h2v1h-2zM281 111h3v1h-3zM286 111h2v1h-2zM292 111h1v1h-1zM295 111h1v1h-1zM300 111h1v1h-1zM355 111h1v1h-1zM96 112h2v1h-2zM104 112h1v1h-1zM111 112h4v1h-4zM116 112h1v1h-1zM119 112h1v1h-1zM121 112h1v1h-1zM123 112h1v1h-1zM125 112h1v1h-1zM127 112h1v1h-1zM129 112h2v1h-2zM132 112h4v1h-4zM137 112h1v1h-1zM140 112h1v1h-1zM148 112h1v1h-1zM151 112h3v1h-3zM161 112h1v1h-1zM164 112h2v1h-2zM167 112h1v1h-1zM170 112h1v1h-1zM172 112h1v1h-1zM177 112h7v1h-7zM185 112h6v1h-6zM192 112h3v1h-3zM196 112h2v1h-2zM199 112h3v1h-3zM203 112h1v1h-1zM205 112h1v1h-1zM207 112h2v1h-2zM210 112h3v1h-3zM222 112h2v1h-2zM225 112h5v1h-5zM232 112h1v1h-1zM235 112h1v1h-1zM237 112h1v1h-1zM244 112h3v1h-3zM248 112h1v1h-1zM250 112h2v1h-2zM253 112h1v1h-1zM257 112h1v1h-1zM260 112h2v1h-2zM264 112h1v1h-1zM266 112h1v1h-1zM268 112h1v1h-1zM271 112h1v1h-1zM274 112h2v1h-2zM277 112h1v1h-1zM285 112h1v1h-1zM300 112h1v1h-1zM93 113h1v1h-1zM95 113h1v1h-1zM97 113h1v1h-1zM100 113h1v1h-1zM102 113h1v1h-1zM108 113h2v1h-2zM114 113h1v1h-1zM116 113h1v1h-1zM119 113h1v1h-1zM121 113h1v1h-1zM123 113h1v1h-1zM125 113h1v1h-1zM127 113h1v1h-1zM131 113h2v1h-2zM136 113h1v1h-1zM138 113h1v1h-1zM140 113h2v1h-2zM145 113h4v1h-4zM151 113h2v1h-2zM155 113h4v1h-4zM160 113h3v1h-3zM164 113h1v1h-1zM169 113h4v1h-4zM174 113h4v1h-4zM180 113h3v1h-3zM184 113h1v1h-1zM186 113h1v1h-1zM188 113h2v1h-2zM191 113h5v1h-5zM199 113h1v1h-1zM201 113h1v1h-1zM203 113h1v1h-1zM205 113h3v1h-3zM209 113h1v1h-1zM211 113h1v1h-1zM214 113h3v1h-3zM218 113h1v1h-1zM220 113h2v1h-2zM224 113h1v1h-1zM227 113h5v1h-5zM234 113h1v1h-1zM236 113h1v1h-1zM238 113h2v1h-2zM243 113h2v1h-2zM246 113h2v1h-2zM251 113h1v1h-1zM254 113h4v1h-4zM265 113h1v1h-1zM270 113h1v1h-1zM272 113h2v1h-2zM279 113h1v1h-1zM281 113h1v1h-1zM298 113h2v1h-2zM305 113h1v1h-1zM307 113h1v1h-1zM323 113h1v1h-1zM93 114h1v1h-1zM98 114h1v1h-1zM100 114h1v1h-1zM105 114h4v1h-4zM110 114h2v1h-2zM113 114h2v1h-2zM119 114h2v1h-2zM125 114h2v1h-2zM128 114h1v1h-1zM131 114h2v1h-2zM135 114h1v1h-1zM137 114h1v1h-1zM140 114h2v1h-2zM144 114h2v1h-2zM147 114h1v1h-1zM149 114h1v1h-1zM153 114h2v1h-2zM157 114h2v1h-2zM160 114h3v1h-3zM164 114h1v1h-1zM169 114h3v1h-3zM173 114h2v1h-2zM178 114h2v1h-2zM182 114h4v1h-4zM187 114h9v1h-9zM198 114h1v1h-1zM201 114h2v1h-2zM209 114h5v1h-5zM216 114h1v1h-1zM222 114h1v1h-1zM224 114h2v1h-2zM228 114h1v1h-1zM232 114h1v1h-1zM237 114h2v1h-2zM240 114h1v1h-1zM242 114h1v1h-1zM244 114h1v1h-1zM247 114h1v1h-1zM249 114h1v1h-1zM251 114h5v1h-5zM257 114h1v1h-1zM259 114h1v1h-1zM261 114h1v1h-1zM263 114h2v1h-2zM267 114h1v1h-1zM269 114h1v1h-1zM275 114h1v1h-1zM278 114h1v1h-1zM280 114h1v1h-1zM283 114h1v1h-1zM289 114h2v1h-2zM314 114h1v1h-1zM327 114h1v1h-1zM93 115h1v1h-1zM96 115h4v1h-4zM101 115h1v1h-1zM105 115h3v1h-3zM111 115h1v1h-1zM113 115h1v1h-1zM120 115h3v1h-3zM124 115h1v1h-1zM127 115h1v1h-1zM130 115h1v1h-1zM134 115h3v1h-3zM138 115h1v1h-1zM140 115h2v1h-2zM143 115h1v1h-1zM145 115h5v1h-5zM152 115h1v1h-1zM155 115h2v1h-2zM160 115h3v1h-3zM164 115h2v1h-2zM168 115h3v1h-3zM172 115h3v1h-3zM176 115h3v1h-3zM180 115h1v1h-1zM182 115h1v1h-1zM185 115h1v1h-1zM189 115h2v1h-2zM192 115h1v1h-1zM197 115h3v1h-3zM201 115h1v1h-1zM203 115h1v1h-1zM207 115h1v1h-1zM211 115h2v1h-2zM215 115h2v1h-2zM218 115h3v1h-3zM222 115h1v1h-1zM224 115h2v1h-2zM227 115h1v1h-1zM229 115h3v1h-3zM234 115h1v1h-1zM238 115h3v1h-3zM242 115h1v1h-1zM245 115h1v1h-1zM250 115h1v1h-1zM252 115h1v1h-1zM261 115h1v1h-1zM266 115h1v1h-1zM270 115h1v1h-1zM274 115h3v1h-3zM278 115h1v1h-1zM280 115h2v1h-2zM285 115h1v1h-1zM288 115h1v1h-1zM290 115h1v1h-1zM299 115h1v1h-1zM303 115h1v1h-1zM315 115h1v1h-1zM95 116h2v1h-2zM98 116h1v1h-1zM104 116h1v1h-1zM110 116h3v1h-3zM114 116h1v1h-1zM116 116h1v1h-1zM118 116h2v1h-2zM122 116h2v1h-2zM125 116h1v1h-1zM129 116h2v1h-2zM132 116h1v1h-1zM134 116h1v1h-1zM137 116h1v1h-1zM140 116h15v1h-15zM156 116h2v1h-2zM160 116h1v1h-1zM162 116h1v1h-1zM164 116h1v1h-1zM166 116h1v1h-1zM168 116h4v1h-4zM175 116h2v1h-2zM180 116h4v1h-4zM186 116h3v1h-3zM190 116h2v1h-2zM196 116h1v1h-1zM198 116h1v1h-1zM200 116h1v1h-1zM202 116h4v1h-4zM210 116h1v1h-1zM213 116h1v1h-1zM215 116h4v1h-4zM221 116h2v1h-2zM224 116h2v1h-2zM229 116h1v1h-1zM232 116h2v1h-2zM235 116h3v1h-3zM239 116h3v1h-3zM243 116h3v1h-3zM247 116h2v1h-2zM250 116h1v1h-1zM253 116h3v1h-3zM257 116h8v1h-8zM267 116h1v1h-1zM272 116h3v1h-3zM276 116h2v1h-2zM286 116h1v1h-1zM288 116h1v1h-1zM291 116h1v1h-1zM305 116h1v1h-1zM94 117h1v1h-1zM98 117h3v1h-3zM107 117h2v1h-2zM115 117h3v1h-3zM119 117h1v1h-1zM121 117h1v1h-1zM124 117h5v1h-5zM134 117h3v1h-3zM143 117h7v1h-7zM151 117h1v1h-1zM153 117h1v1h-1zM155 117h3v1h-3zM159 117h1v1h-1zM162 117h2v1h-2zM165 117h4v1h-4zM170 117h1v1h-1zM172 117h6v1h-6zM180 117h7v1h-7zM188 117h9v1h-9zM199 117h8v1h-8zM208 117h1v1h-1zM210 117h3v1h-3zM214 117h2v1h-2zM218 117h1v1h-1zM221 117h2v1h-2zM224 117h7v1h-7zM232 117h3v1h-3zM240 117h3v1h-3zM244 117h1v1h-1zM246 117h1v1h-1zM248 117h1v1h-1zM250 117h1v1h-1zM252 117h9v1h-9zM262 117h1v1h-1zM264 117h1v1h-1zM268 117h1v1h-1zM270 117h1v1h-1zM273 117h1v1h-1zM275 117h2v1h-2zM283 117h1v1h-1zM287 117h2v1h-2zM292 117h1v1h-1zM296 117h1v1h-1zM299 117h1v1h-1zM306 117h1v1h-1zM313 117h1v1h-1zM319 117h1v1h-1zM94 118h1v1h-1zM98 118h1v1h-1zM101 118h2v1h-2zM105 118h2v1h-2zM110 118h1v1h-1zM112 118h1v1h-1zM114 118h2v1h-2zM119 118h4v1h-4zM124 118h1v1h-1zM126 118h1v1h-1zM131 118h1v1h-1zM133 118h1v1h-1zM135 118h1v1h-1zM137 118h1v1h-1zM141 118h1v1h-1zM143 118h1v1h-1zM146 118h3v1h-3zM153 118h1v1h-1zM155 118h1v1h-1zM157 118h2v1h-2zM160 118h2v1h-2zM163 118h1v1h-1zM167 118h4v1h-4zM172 118h2v1h-2zM175 118h1v1h-1zM177 118h5v1h-5zM184 118h3v1h-3zM188 118h2v1h-2zM192 118h1v1h-1zM194 118h1v1h-1zM196 118h4v1h-4zM201 118h1v1h-1zM203 118h2v1h-2zM207 118h5v1h-5zM214 118h2v1h-2zM217 118h1v1h-1zM219 118h3v1h-3zM224 118h1v1h-1zM227 118h2v1h-2zM230 118h1v1h-1zM233 118h1v1h-1zM236 118h3v1h-3zM240 118h1v1h-1zM242 118h2v1h-2zM247 118h3v1h-3zM252 118h10v1h-10zM267 118h1v1h-1zM269 118h1v1h-1zM272 118h1v1h-1zM276 118h2v1h-2zM279 118h1v1h-1zM283 118h3v1h-3zM290 118h2v1h-2zM320 118h1v1h-1zM323 118h1v1h-1zM93 119h1v1h-1zM95 119h1v1h-1zM97 119h3v1h-3zM102 119h4v1h-4zM107 119h1v1h-1zM110 119h1v1h-1zM112 119h1v1h-1zM120 119h4v1h-4zM127 119h2v1h-2zM132 119h1v1h-1zM135 119h1v1h-1zM138 119h1v1h-1zM141 119h1v1h-1zM144 119h1v1h-1zM146 119h2v1h-2zM150 119h2v1h-2zM154 119h1v1h-1zM156 119h2v1h-2zM163 119h1v1h-1zM165 119h4v1h-4zM170 119h1v1h-1zM172 119h4v1h-4zM177 119h1v1h-1zM180 119h2v1h-2zM184 119h1v1h-1zM186 119h1v1h-1zM188 119h1v1h-1zM192 119h4v1h-4zM197 119h5v1h-5zM204 119h2v1h-2zM207 119h2v1h-2zM211 119h2v1h-2zM215 119h1v1h-1zM217 119h7v1h-7zM225 119h3v1h-3zM230 119h1v1h-1zM232 119h1v1h-1zM234 119h4v1h-4zM239 119h5v1h-5zM246 119h6v1h-6zM258 119h1v1h-1zM260 119h3v1h-3zM265 119h4v1h-4zM271 119h1v1h-1zM273 119h4v1h-4zM278 119h1v1h-1zM280 119h1v1h-1zM282 119h2v1h-2zM288 119h1v1h-1zM339 119h1v1h-1zM93 120h2v1h-2zM96 120h2v1h-2zM104 120h5v1h-5zM110 120h1v1h-1zM113 120h3v1h-3zM117 120h2v1h-2zM120 120h5v1h-5zM127 120h1v1h-1zM131 120h2v1h-2zM136 120h1v1h-1zM138 120h4v1h-4zM145 120h1v1h-1zM148 120h2v1h-2zM151 120h3v1h-3zM155 120h2v1h-2zM158 120h1v1h-1zM160 120h3v1h-3zM166 120h1v1h-1zM169 120h4v1h-4zM174 120h1v1h-1zM176 120h3v1h-3zM180 120h7v1h-7zM188 120h3v1h-3zM192 120h3v1h-3zM197 120h4v1h-4zM203 120h4v1h-4zM208 120h1v1h-1zM210 120h11v1h-11zM224 120h3v1h-3zM228 120h6v1h-6zM236 120h2v1h-2zM241 120h3v1h-3zM247 120h3v1h-3zM251 120h1v1h-1zM253 120h1v1h-1zM256 120h3v1h-3zM261 120h10v1h-10zM274 120h2v1h-2zM277 120h1v1h-1zM279 120h4v1h-4zM284 120h1v1h-1zM286 120h1v1h-1zM288 120h1v1h-1zM290 120h3v1h-3zM296 120h1v1h-1zM300 120h2v1h-2zM308 120h1v1h-1zM356 120h1v1h-1zM93 121h2v1h-2zM97 121h1v1h-1zM101 121h2v1h-2zM105 121h1v1h-1zM107 121h1v1h-1zM110 121h4v1h-4zM115 121h2v1h-2zM118 121h2v1h-2zM122 121h5v1h-5zM130 121h2v1h-2zM136 121h1v1h-1zM138 121h3v1h-3zM143 121h4v1h-4zM150 121h1v1h-1zM152 121h1v1h-1zM155 121h1v1h-1zM157 121h1v1h-1zM159 121h1v1h-1zM161 121h2v1h-2zM164 121h4v1h-4zM169 121h6v1h-6zM176 121h5v1h-5zM182 121h4v1h-4zM188 121h3v1h-3zM193 121h1v1h-1zM195 121h3v1h-3zM199 121h1v1h-1zM201 121h1v1h-1zM203 121h2v1h-2zM206 121h1v1h-1zM208 121h7v1h-7zM216 121h8v1h-8zM225 121h9v1h-9zM235 121h4v1h-4zM240 121h7v1h-7zM249 121h5v1h-5zM259 121h3v1h-3zM264 121h1v1h-1zM266 121h1v1h-1zM269 121h2v1h-2zM273 121h1v1h-1zM276 121h1v1h-1zM278 121h1v1h-1zM289 121h1v1h-1zM93 122h3v1h-3zM99 122h2v1h-2zM105 122h2v1h-2zM110 122h2v1h-2zM114 122h6v1h-6zM122 122h1v1h-1zM124 122h1v1h-1zM128 122h2v1h-2zM132 122h2v1h-2zM136 122h3v1h-3zM140 122h3v1h-3zM144 122h7v1h-7zM152 122h1v1h-1zM154 122h1v1h-1zM156 122h2v1h-2zM161 122h2v1h-2zM164 122h4v1h-4zM170 122h2v1h-2zM173 122h1v1h-1zM175 122h5v1h-5zM182 122h2v1h-2zM185 122h1v1h-1zM188 122h1v1h-1zM191 122h9v1h-9zM201 122h3v1h-3zM205 122h3v1h-3zM209 122h1v1h-1zM211 122h1v1h-1zM214 122h2v1h-2zM218 122h3v1h-3zM222 122h1v1h-1zM224 122h3v1h-3zM228 122h1v1h-1zM230 122h4v1h-4zM238 122h1v1h-1zM240 122h3v1h-3zM244 122h2v1h-2zM248 122h6v1h-6zM255 122h1v1h-1zM257 122h4v1h-4zM262 122h4v1h-4zM268 122h1v1h-1zM274 122h1v1h-1zM276 122h1v1h-1zM280 122h1v1h-1zM295 122h1v1h-1zM301 122h1v1h-1zM322 122h1v1h-1zM94 123h2v1h-2zM97 123h2v1h-2zM100 123h3v1h-3zM104 123h3v1h-3zM108 123h1v1h-1zM112 123h1v1h-1zM116 123h1v1h-1zM119 123h1v1h-1zM121 123h2v1h-2zM124 123h1v1h-1zM126 123h1v1h-1zM128 123h1v1h-1zM130 123h2v1h-2zM133 123h1v1h-1zM135 123h1v1h-1zM137 123h2v1h-2zM141 123h4v1h-4zM146 123h3v1h-3zM150 123h1v1h-1zM152 123h2v1h-2zM155 123h3v1h-3zM159 123h6v1h-6zM166 123h2v1h-2zM169 123h7v1h-7zM177 123h1v1h-1zM180 123h4v1h-4zM185 123h3v1h-3zM190 123h7v1h-7zM200 123h4v1h-4zM205 123h1v1h-1zM208 123h6v1h-6zM216 123h2v1h-2zM219 123h6v1h-6zM227 123h1v1h-1zM230 123h1v1h-1zM236 123h3v1h-3zM241 123h2v1h-2zM246 123h4v1h-4zM252 123h1v1h-1zM254 123h1v1h-1zM256 123h1v1h-1zM258 123h3v1h-3zM264 123h3v1h-3zM271 123h1v1h-1zM276 123h1v1h-1zM278 123h2v1h-2zM281 123h1v1h-1zM283 123h1v1h-1zM290 123h1v1h-1zM293 123h1v1h-1zM295 123h1v1h-1zM308 123h2v1h-2zM93 124h2v1h-2zM97 124h1v1h-1zM103 124h1v1h-1zM105 124h1v1h-1zM108 124h4v1h-4zM114 124h1v1h-1zM119 124h2v1h-2zM122 124h2v1h-2zM126 124h6v1h-6zM135 124h2v1h-2zM138 124h4v1h-4zM143 124h3v1h-3zM148 124h1v1h-1zM151 124h2v1h-2zM155 124h1v1h-1zM157 124h2v1h-2zM160 124h1v1h-1zM162 124h7v1h-7zM170 124h10v1h-10zM181 124h1v1h-1zM183 124h1v1h-1zM189 124h4v1h-4zM194 124h10v1h-10zM205 124h2v1h-2zM208 124h1v1h-1zM210 124h2v1h-2zM213 124h9v1h-9zM223 124h2v1h-2zM227 124h1v1h-1zM229 124h1v1h-1zM231 124h2v1h-2zM234 124h6v1h-6zM241 124h2v1h-2zM244 124h2v1h-2zM249 124h1v1h-1zM251 124h1v1h-1zM257 124h1v1h-1zM259 124h1v1h-1zM261 124h1v1h-1zM263 124h1v1h-1zM268 124h3v1h-3zM273 124h3v1h-3zM278 124h3v1h-3zM282 124h1v1h-1zM288 124h1v1h-1zM301 124h1v1h-1zM308 124h1v1h-1zM95 125h1v1h-1zM97 125h1v1h-1zM101 125h2v1h-2zM104 125h1v1h-1zM107 125h2v1h-2zM110 125h1v1h-1zM112 125h2v1h-2zM116 125h7v1h-7zM124 125h1v1h-1zM127 125h3v1h-3zM136 125h3v1h-3zM142 125h1v1h-1zM144 125h5v1h-5zM150 125h7v1h-7zM158 125h1v1h-1zM160 125h3v1h-3zM164 125h1v1h-1zM166 125h2v1h-2zM169 125h8v1h-8zM178 125h6v1h-6zM185 125h18v1h-18zM204 125h5v1h-5zM210 125h2v1h-2zM213 125h2v1h-2zM216 125h1v1h-1zM218 125h4v1h-4zM223 125h4v1h-4zM228 125h4v1h-4zM233 125h1v1h-1zM235 125h4v1h-4zM240 125h1v1h-1zM242 125h3v1h-3zM246 125h4v1h-4zM251 125h1v1h-1zM253 125h2v1h-2zM257 125h1v1h-1zM261 125h3v1h-3zM267 125h3v1h-3zM274 125h2v1h-2zM288 125h1v1h-1zM320 125h1v1h-1zM322 125h1v1h-1zM93 126h1v1h-1zM96 126h3v1h-3zM100 126h2v1h-2zM103 126h4v1h-4zM108 126h1v1h-1zM110 126h2v1h-2zM115 126h1v1h-1zM117 126h2v1h-2zM120 126h3v1h-3zM125 126h7v1h-7zM133 126h1v1h-1zM135 126h1v1h-1zM138 126h3v1h-3zM143 126h1v1h-1zM145 126h7v1h-7zM153 126h1v1h-1zM155 126h26v1h-26zM183 126h5v1h-5zM189 126h3v1h-3zM193 126h4v1h-4zM198 126h6v1h-6zM205 126h1v1h-1zM207 126h1v1h-1zM210 126h1v1h-1zM212 126h10v1h-10zM224 126h3v1h-3zM228 126h6v1h-6zM235 126h2v1h-2zM240 126h1v1h-1zM242 126h3v1h-3zM246 126h1v1h-1zM248 126h3v1h-3zM253 126h1v1h-1zM255 126h2v1h-2zM258 126h1v1h-1zM260 126h4v1h-4zM265 126h1v1h-1zM273 126h2v1h-2zM276 126h1v1h-1zM278 126h4v1h-4zM287 126h1v1h-1zM292 126h1v1h-1zM295 126h1v1h-1zM297 126h1v1h-1zM301 126h1v1h-1zM348 126h1v1h-1zM94 127h1v1h-1zM97 127h1v1h-1zM100 127h1v1h-1zM103 127h2v1h-2zM106 127h3v1h-3zM110 127h7v1h-7zM118 127h5v1h-5zM127 127h5v1h-5zM133 127h5v1h-5zM139 127h20v1h-20zM160 127h8v1h-8zM169 127h8v1h-8zM178 127h1v1h-1zM180 127h12v1h-12zM194 127h6v1h-6zM201 127h13v1h-13zM215 127h1v1h-1zM217 127h4v1h-4zM222 127h15v1h-15zM239 127h3v1h-3zM243 127h3v1h-3zM247 127h3v1h-3zM251 127h6v1h-6zM259 127h1v1h-1zM264 127h2v1h-2zM268 127h2v1h-2zM272 127h2v1h-2zM281 127h1v1h-1zM284 127h1v1h-1zM287 127h2v1h-2zM291 127h1v1h-1zM295 127h1v1h-1zM302 127h1v1h-1zM93 128h3v1h-3zM97 128h1v1h-1zM99 128h2v1h-2zM103 128h6v1h-6zM110 128h2v1h-2zM115 128h4v1h-4zM121 128h1v1h-1zM123 128h2v1h-2zM129 128h1v1h-1zM131 128h3v1h-3zM135 128h8v1h-8zM145 128h2v1h-2zM148 128h4v1h-4zM153 128h1v1h-1zM155 128h13v1h-13zM169 128h2v1h-2zM172 128h3v1h-3zM176 128h4v1h-4zM181 128h1v1h-1zM183 128h2v1h-2zM186 128h3v1h-3zM190 128h5v1h-5zM196 128h4v1h-4zM201 128h8v1h-8zM210 128h8v1h-8zM219 128h12v1h-12zM232 128h1v1h-1zM238 128h4v1h-4zM243 128h2v1h-2zM246 128h1v1h-1zM248 128h2v1h-2zM251 128h7v1h-7zM260 128h1v1h-1zM263 128h3v1h-3zM269 128h1v1h-1zM272 128h1v1h-1zM275 128h1v1h-1zM277 128h1v1h-1zM287 128h1v1h-1zM289 128h2v1h-2zM303 128h2v1h-2zM93 129h3v1h-3zM98 129h2v1h-2zM101 129h3v1h-3zM106 129h4v1h-4zM112 129h1v1h-1zM115 129h2v1h-2zM118 129h1v1h-1zM120 129h3v1h-3zM124 129h7v1h-7zM132 129h13v1h-13zM146 129h2v1h-2zM149 129h7v1h-7zM157 129h5v1h-5zM163 129h10v1h-10zM174 129h32v1h-32zM207 129h5v1h-5zM213 129h6v1h-6zM220 129h1v1h-1zM222 129h8v1h-8zM231 129h10v1h-10zM244 129h2v1h-2zM247 129h1v1h-1zM249 129h4v1h-4zM254 129h2v1h-2zM259 129h1v1h-1zM262 129h1v1h-1zM265 129h1v1h-1zM268 129h3v1h-3zM273 129h1v1h-1zM276 129h2v1h-2zM279 129h1v1h-1zM281 129h1v1h-1zM287 129h2v1h-2zM355 129h1v1h-1zM93 130h3v1h-3zM98 130h6v1h-6zM105 130h3v1h-3zM109 130h2v1h-2zM112 130h1v1h-1zM114 130h6v1h-6zM121 130h2v1h-2zM124 130h6v1h-6zM131 130h4v1h-4zM136 130h4v1h-4zM141 130h3v1h-3zM145 130h8v1h-8zM154 130h3v1h-3zM158 130h2v1h-2zM161 130h43v1h-43zM205 130h4v1h-4zM212 130h7v1h-7zM220 130h6v1h-6zM227 130h4v1h-4zM233 130h2v1h-2zM236 130h2v1h-2zM239 130h1v1h-1zM243 130h1v1h-1zM245 130h3v1h-3zM250 130h2v1h-2zM253 130h1v1h-1zM255 130h1v1h-1zM263 130h1v1h-1zM266 130h1v1h-1zM268 130h1v1h-1zM271 130h1v1h-1zM281 130h1v1h-1zM284 130h1v1h-1zM298 130h1v1h-1zM312 130h1v1h-1zM93 131h1v1h-1zM95 131h1v1h-1zM98 131h3v1h-3zM102 131h1v1h-1zM105 131h5v1h-5zM112 131h1v1h-1zM116 131h1v1h-1zM118 131h1v1h-1zM120 131h3v1h-3zM124 131h1v1h-1zM127 131h6v1h-6zM134 131h6v1h-6zM141 131h15v1h-15zM157 131h2v1h-2zM160 131h3v1h-3zM164 131h1v1h-1zM166 131h15v1h-15zM183 131h12v1h-12zM196 131h1v1h-1zM198 131h1v1h-1zM200 131h8v1h-8zM210 131h7v1h-7zM218 131h5v1h-5zM224 131h4v1h-4zM229 131h2v1h-2zM233 131h1v1h-1zM235 131h6v1h-6zM242 131h4v1h-4zM248 131h1v1h-1zM251 131h2v1h-2zM254 131h3v1h-3zM258 131h4v1h-4zM263 131h1v1h-1zM265 131h1v1h-1zM267 131h1v1h-1zM271 131h1v1h-1zM275 131h1v1h-1zM277 131h1v1h-1zM287 131h1v1h-1zM289 131h1v1h-1zM299 131h1v1h-1zM93 132h3v1h-3zM97 132h5v1h-5zM103 132h2v1h-2zM107 132h9v1h-9zM118 132h5v1h-5zM124 132h1v1h-1zM126 132h3v1h-3zM131 132h1v1h-1zM134 132h1v1h-1zM136 132h6v1h-6zM143 132h13v1h-13zM157 132h2v1h-2zM160 132h6v1h-6zM167 132h2v1h-2zM170 132h3v1h-3zM174 132h3v1h-3zM178 132h9v1h-9zM189 132h15v1h-15zM205 132h1v1h-1zM207 132h10v1h-10zM218 132h6v1h-6zM225 132h1v1h-1zM227 132h5v1h-5zM233 132h8v1h-8zM242 132h3v1h-3zM246 132h3v1h-3zM251 132h2v1h-2zM257 132h2v1h-2zM261 132h4v1h-4zM266 132h4v1h-4zM272 132h1v1h-1zM274 132h2v1h-2zM279 132h2v1h-2zM302 132h1v1h-1zM93 133h3v1h-3zM97 133h4v1h-4zM102 133h1v1h-1zM105 133h2v1h-2zM108 133h2v1h-2zM111 133h3v1h-3zM115 133h2v1h-2zM118 133h3v1h-3zM122 133h8v1h-8zM132 133h2v1h-2zM135 133h2v1h-2zM138 133h1v1h-1zM140 133h2v1h-2zM144 133h7v1h-7zM152 133h25v1h-25zM179 133h37v1h-37zM217 133h2v1h-2zM220 133h9v1h-9zM230 133h8v1h-8zM240 133h2v1h-2zM243 133h3v1h-3zM250 133h2v1h-2zM254 133h1v1h-1zM259 133h1v1h-1zM261 133h3v1h-3zM267 133h2v1h-2zM274 133h1v1h-1zM277 133h1v1h-1zM298 133h1v1h-1zM93 134h2v1h-2zM97 134h2v1h-2zM100 134h2v1h-2zM103 134h1v1h-1zM105 134h3v1h-3zM109 134h3v1h-3zM113 134h6v1h-6zM120 134h1v1h-1zM122 134h5v1h-5zM128 134h3v1h-3zM135 134h2v1h-2zM138 134h19v1h-19zM159 134h9v1h-9zM169 134h1v1h-1zM172 134h4v1h-4zM177 134h1v1h-1zM179 134h7v1h-7zM187 134h1v1h-1zM189 134h4v1h-4zM194 134h6v1h-6zM202 134h2v1h-2zM206 134h3v1h-3zM210 134h10v1h-10zM221 134h1v1h-1zM224 134h13v1h-13zM238 134h1v1h-1zM242 134h3v1h-3zM246 134h5v1h-5zM252 134h1v1h-1zM254 134h2v1h-2zM258 134h2v1h-2zM264 134h4v1h-4zM271 134h1v1h-1zM276 134h1v1h-1zM278 134h1v1h-1zM280 134h3v1h-3zM289 134h1v1h-1zM314 134h1v1h-1zM94 135h2v1h-2zM97 135h6v1h-6zM104 135h6v1h-6zM112 135h2v1h-2zM115 135h3v1h-3zM120 135h4v1h-4zM125 135h1v1h-1zM127 135h4v1h-4zM132 135h1v1h-1zM134 135h1v1h-1zM136 135h11v1h-11zM152 135h24v1h-24zM178 135h22v1h-22zM202 135h3v1h-3zM206 135h19v1h-19zM228 135h3v1h-3zM232 135h2v1h-2zM236 135h2v1h-2zM239 135h2v1h-2zM242 135h4v1h-4zM247 135h1v1h-1zM249 135h1v1h-1zM255 135h2v1h-2zM261 135h2v1h-2zM264 135h1v1h-1zM266 135h1v1h-1zM269 135h2v1h-2zM274 135h2v1h-2zM280 135h1v1h-1zM282 135h1v1h-1zM284 135h1v1h-1zM300 135h1v1h-1zM330 135h1v1h-1zM93 136h6v1h-6zM100 136h4v1h-4zM105 136h2v1h-2zM109 136h3v1h-3zM115 136h7v1h-7zM123 136h15v1h-15zM139 136h3v1h-3zM143 136h13v1h-13zM157 136h3v1h-3zM161 136h14v1h-14zM177 136h11v1h-11zM189 136h18v1h-18zM208 136h1v1h-1zM210 136h3v1h-3zM214 136h1v1h-1zM216 136h2v1h-2zM219 136h1v1h-1zM222 136h7v1h-7zM230 136h1v1h-1zM234 136h1v1h-1zM236 136h1v1h-1zM238 136h2v1h-2zM247 136h1v1h-1zM253 136h1v1h-1zM256 136h1v1h-1zM265 136h2v1h-2zM268 136h2v1h-2zM272 136h1v1h-1zM275 136h1v1h-1zM279 136h1v1h-1zM284 136h1v1h-1zM296 136h1v1h-1zM93 137h6v1h-6zM100 137h6v1h-6zM107 137h8v1h-8zM116 137h3v1h-3zM120 137h12v1h-12zM133 137h3v1h-3zM137 137h11v1h-11zM149 137h11v1h-11zM161 137h13v1h-13zM176 137h6v1h-6zM183 137h8v1h-8zM192 137h2v1h-2zM195 137h5v1h-5zM202 137h13v1h-13zM216 137h6v1h-6zM223 137h5v1h-5zM229 137h2v1h-2zM232 137h3v1h-3zM238 137h1v1h-1zM240 137h1v1h-1zM243 137h2v1h-2zM246 137h2v1h-2zM249 137h3v1h-3zM253 137h2v1h-2zM256 137h1v1h-1zM263 137h2v1h-2zM270 137h3v1h-3zM274 137h1v1h-1zM279 137h1v1h-1zM291 137h1v1h-1zM311 137h1v1h-1zM347 137h1v1h-1zM94 138h4v1h-4zM99 138h1v1h-1zM101 138h4v1h-4zM107 138h10v1h-10zM118 138h3v1h-3zM122 138h4v1h-4zM127 138h6v1h-6zM134 138h7v1h-7zM143 138h6v1h-6zM150 138h13v1h-13zM164 138h7v1h-7zM173 138h1v1h-1zM175 138h6v1h-6zM182 138h4v1h-4zM187 138h13v1h-13zM201 138h7v1h-7zM209 138h13v1h-13zM223 138h2v1h-2zM227 138h10v1h-10zM238 138h1v1h-1zM241 138h2v1h-2zM245 138h1v1h-1zM247 138h5v1h-5zM254 138h2v1h-2zM258 138h1v1h-1zM263 138h2v1h-2zM266 138h1v1h-1zM277 138h1v1h-1zM280 138h1v1h-1zM285 138h1v1h-1zM289 138h1v1h-1zM296 138h1v1h-1zM93 139h2v1h-2zM97 139h3v1h-3zM101 139h1v1h-1zM103 139h3v1h-3zM107 139h4v1h-4zM113 139h1v1h-1zM115 139h9v1h-9zM125 139h1v1h-1zM127 139h6v1h-6zM134 139h5v1h-5zM140 139h19v1h-19zM161 139h16v1h-16zM178 139h6v1h-6zM185 139h5v1h-5zM191 139h6v1h-6zM198 139h3v1h-3zM202 139h10v1h-10zM213 139h6v1h-6zM221 139h2v1h-2zM224 139h1v1h-1zM226 139h1v1h-1zM228 139h2v1h-2zM232 139h2v1h-2zM236 139h4v1h-4zM241 139h4v1h-4zM247 139h1v1h-1zM249 139h2v1h-2zM253 139h1v1h-1zM259 139h3v1h-3zM263 139h1v1h-1zM265 139h1v1h-1zM278 139h1v1h-1zM294 139h1v1h-1zM328 139h1v1h-1zM93 140h10v1h-10zM104 140h5v1h-5zM110 140h17v1h-17zM128 140h3v1h-3zM132 140h20v1h-20zM153 140h15v1h-15zM169 140h2v1h-2zM172 140h8v1h-8zM181 140h1v1h-1zM183 140h9v1h-9zM193 140h2v1h-2zM196 140h8v1h-8zM205 140h9v1h-9zM215 140h1v1h-1zM217 140h4v1h-4zM222 140h1v1h-1zM225 140h11v1h-11zM237 140h1v1h-1zM239 140h7v1h-7zM247 140h1v1h-1zM249 140h1v1h-1zM251 140h2v1h-2zM257 140h1v1h-1zM262 140h1v1h-1zM265 140h2v1h-2zM268 140h1v1h-1zM272 140h3v1h-3zM279 140h1v1h-1zM281 140h1v1h-1zM296 140h1v1h-1zM330 140h1v1h-1zM94 141h10v1h-10zM106 141h5v1h-5zM112 141h1v1h-1zM114 141h2v1h-2zM117 141h2v1h-2zM120 141h9v1h-9zM130 141h2v1h-2zM133 141h7v1h-7zM142 141h8v1h-8zM151 141h9v1h-9zM161 141h13v1h-13zM176 141h1v1h-1zM178 141h6v1h-6zM185 141h30v1h-30zM216 141h2v1h-2zM219 141h1v1h-1zM221 141h5v1h-5zM229 141h2v1h-2zM233 141h4v1h-4zM239 141h6v1h-6zM249 141h2v1h-2zM252 141h2v1h-2zM255 141h2v1h-2zM262 141h1v1h-1zM268 141h2v1h-2zM275 141h1v1h-1zM277 141h1v1h-1zM281 141h1v1h-1zM283 141h1v1h-1zM290 141h1v1h-1zM301 141h1v1h-1zM371 141h1v1h-1zM93 142h2v1h-2zM96 142h4v1h-4zM101 142h14v1h-14zM117 142h1v1h-1zM119 142h2v1h-2zM122 142h4v1h-4zM127 142h4v1h-4zM132 142h1v1h-1zM134 142h9v1h-9zM144 142h12v1h-12zM157 142h14v1h-14zM172 142h6v1h-6zM179 142h12v1h-12zM192 142h12v1h-12zM205 142h17v1h-17zM224 142h2v1h-2zM228 142h4v1h-4zM233 142h2v1h-2zM236 142h3v1h-3zM241 142h3v1h-3zM245 142h1v1h-1zM250 142h2v1h-2zM253 142h1v1h-1zM258 142h2v1h-2zM263 142h1v1h-1zM271 142h1v1h-1zM274 142h1v1h-1zM276 142h1v1h-1zM291 142h1v1h-1zM301 142h1v1h-1zM93 143h32v1h-32zM126 143h14v1h-14zM141 143h1v1h-1zM143 143h6v1h-6zM150 143h6v1h-6zM157 143h5v1h-5zM163 143h31v1h-31zM195 143h13v1h-13zM209 143h1v1h-1zM212 143h11v1h-11zM226 143h3v1h-3zM230 143h4v1h-4zM237 143h4v1h-4zM243 143h1v1h-1zM247 143h2v1h-2zM252 143h3v1h-3zM258 143h1v1h-1zM263 143h1v1h-1zM271 143h1v1h-1zM276 143h1v1h-1zM278 143h1v1h-1zM281 143h1v1h-1zM284 143h1v1h-1zM287 143h1v1h-1zM293 143h1v1h-1zM315 143h1v1h-1zM325 143h1v1h-1zM94 144h4v1h-4zM99 144h2v1h-2zM102 144h4v1h-4zM107 144h14v1h-14zM123 144h5v1h-5zM129 144h6v1h-6zM136 144h10v1h-10zM147 144h11v1h-11zM159 144h2v1h-2zM162 144h8v1h-8zM171 144h8v1h-8zM180 144h3v1h-3zM184 144h6v1h-6zM192 144h15v1h-15zM208 144h15v1h-15zM226 144h3v1h-3zM231 144h1v1h-1zM233 144h2v1h-2zM236 144h2v1h-2zM240 144h4v1h-4zM247 144h2v1h-2zM250 144h2v1h-2zM253 144h2v1h-2zM256 144h3v1h-3zM265 144h2v1h-2zM268 144h1v1h-1zM276 144h1v1h-1zM278 144h1v1h-1zM286 144h1v1h-1zM291 144h1v1h-1zM93 145h7v1h-7zM101 145h7v1h-7zM109 145h15v1h-15zM125 145h6v1h-6zM132 145h11v1h-11zM144 145h24v1h-24zM169 145h18v1h-18zM188 145h1v1h-1zM191 145h1v1h-1zM193 145h19v1h-19zM214 145h6v1h-6zM221 145h6v1h-6zM228 145h6v1h-6zM240 145h1v1h-1zM242 145h2v1h-2zM247 145h1v1h-1zM252 145h2v1h-2zM256 145h2v1h-2zM261 145h1v1h-1zM264 145h1v1h-1zM266 145h1v1h-1zM272 145h1v1h-1zM279 145h1v1h-1zM281 145h2v1h-2zM298 145h1v1h-1zM301 145h1v1h-1zM330 145h1v1h-1zM354 145h1v1h-1zM93 146h5v1h-5zM99 146h7v1h-7zM107 146h5v1h-5zM113 146h5v1h-5zM119 146h1v1h-1zM121 146h6v1h-6zM128 146h5v1h-5zM134 146h7v1h-7zM143 146h31v1h-31zM175 146h5v1h-5zM181 146h8v1h-8zM190 146h10v1h-10zM201 146h10v1h-10zM212 146h1v1h-1zM214 146h7v1h-7zM222 146h1v1h-1zM224 146h9v1h-9zM235 146h3v1h-3zM239 146h4v1h-4zM246 146h2v1h-2zM249 146h1v1h-1zM253 146h1v1h-1zM256 146h1v1h-1zM259 146h1v1h-1zM263 146h1v1h-1zM266 146h2v1h-2zM271 146h1v1h-1zM273 146h1v1h-1zM285 146h1v1h-1zM287 146h1v1h-1zM309 146h1v1h-1zM316 146h1v1h-1zM93 147h4v1h-4zM98 147h9v1h-9zM108 147h4v1h-4zM113 147h9v1h-9zM123 147h10v1h-10zM134 147h6v1h-6zM141 147h17v1h-17zM159 147h46v1h-46zM206 147h7v1h-7zM214 147h5v1h-5zM220 147h1v1h-1zM222 147h7v1h-7zM230 147h2v1h-2zM233 147h2v1h-2zM238 147h1v1h-1zM240 147h1v1h-1zM242 147h1v1h-1zM245 147h1v1h-1zM247 147h1v1h-1zM249 147h1v1h-1zM253 147h2v1h-2zM259 147h1v1h-1zM261 147h1v1h-1zM270 147h2v1h-2zM277 147h1v1h-1zM280 147h2v1h-2zM93 148h28v1h-28zM122 148h13v1h-13zM136 148h13v1h-13zM150 148h4v1h-4zM155 148h1v1h-1zM157 148h15v1h-15zM173 148h20v1h-20zM194 148h6v1h-6zM201 148h13v1h-13zM215 148h2v1h-2zM220 148h2v1h-2zM224 148h7v1h-7zM232 148h2v1h-2zM239 148h2v1h-2zM244 148h6v1h-6zM252 148h1v1h-1zM255 148h2v1h-2zM258 148h2v1h-2zM265 148h3v1h-3zM287 148h1v1h-1zM297 148h1v1h-1zM305 148h1v1h-1zM313 148h1v1h-1zM323 148h1v1h-1zM93 149h20v1h-20zM114 149h7v1h-7zM122 149h5v1h-5zM128 149h14v1h-14zM143 149h3v1h-3zM147 149h10v1h-10zM158 149h11v1h-11zM170 149h13v1h-13zM184 149h9v1h-9zM194 149h4v1h-4zM199 149h1v1h-1zM201 149h16v1h-16zM218 149h6v1h-6zM225 149h2v1h-2zM228 149h1v1h-1zM230 149h3v1h-3zM234 149h4v1h-4zM239 149h1v1h-1zM241 149h1v1h-1zM256 149h1v1h-1zM275 149h1v1h-1zM282 149h2v1h-2zM93 150h30v1h-30zM124 150h8v1h-8zM133 150h3v1h-3zM137 150h30v1h-30zM168 150h4v1h-4zM175 150h16v1h-16zM192 150h9v1h-9zM202 150h11v1h-11zM214 150h1v1h-1zM216 150h10v1h-10zM227 150h2v1h-2zM230 150h1v1h-1zM232 150h2v1h-2zM236 150h1v1h-1zM238 150h4v1h-4zM244 150h1v1h-1zM246 150h1v1h-1zM248 150h1v1h-1zM250 150h2v1h-2zM261 150h1v1h-1zM270 150h1v1h-1zM275 150h1v1h-1zM295 150h1v1h-1zM94 151h15v1h-15zM110 151h9v1h-9zM120 151h13v1h-13zM134 151h2v1h-2zM137 151h5v1h-5zM143 151h2v1h-2zM146 151h14v1h-14zM161 151h8v1h-8zM170 151h6v1h-6zM177 151h11v1h-11zM189 151h1v1h-1zM191 151h13v1h-13zM205 151h1v1h-1zM207 151h11v1h-11zM219 151h7v1h-7zM227 151h4v1h-4zM233 151h1v1h-1zM235 151h2v1h-2zM239 151h2v1h-2zM243 151h5v1h-5zM250 151h1v1h-1zM253 151h1v1h-1zM258 151h1v1h-1zM261 151h1v1h-1zM269 151h1v1h-1zM275 151h1v1h-1zM282 151h1v1h-1zM285 151h1v1h-1zM295 151h1v1h-1zM359 151h1v1h-1zM93 152h7v1h-7zM101 152h33v1h-33zM135 152h7v1h-7zM143 152h23v1h-23zM167 152h20v1h-20zM188 152h1v1h-1zM190 152h9v1h-9zM200 152h3v1h-3zM204 152h1v1h-1zM206 152h5v1h-5zM212 152h2v1h-2zM215 152h2v1h-2zM219 152h3v1h-3zM223 152h7v1h-7zM231 152h6v1h-6zM238 152h1v1h-1zM240 152h1v1h-1zM243 152h1v1h-1zM245 152h1v1h-1zM247 152h1v1h-1zM251 152h1v1h-1zM254 152h1v1h-1zM258 152h2v1h-2zM264 152h1v1h-1zM266 152h1v1h-1zM269 152h1v1h-1zM272 152h2v1h-2zM278 152h1v1h-1zM283 152h1v1h-1zM292 152h1v1h-1zM298 152h1v1h-1zM330 152h1v1h-1zM93 153h19v1h-19zM114 153h8v1h-8zM123 153h10v1h-10zM134 153h23v1h-23zM158 153h2v1h-2zM162 153h7v1h-7zM170 153h6v1h-6zM177 153h4v1h-4zM183 153h4v1h-4zM188 153h1v1h-1zM191 153h3v1h-3zM196 153h1v1h-1zM198 153h4v1h-4zM203 153h3v1h-3zM207 153h4v1h-4zM212 153h1v1h-1zM214 153h1v1h-1zM216 153h7v1h-7zM225 153h4v1h-4zM230 153h1v1h-1zM233 153h3v1h-3zM237 153h1v1h-1zM240 153h1v1h-1zM242 153h1v1h-1zM246 153h3v1h-3zM250 153h2v1h-2zM253 153h1v1h-1zM257 153h1v1h-1zM259 153h2v1h-2zM263 153h2v1h-2zM267 153h1v1h-1zM286 153h1v1h-1zM294 153h1v1h-1zM93 154h2v1h-2zM97 154h2v1h-2zM100 154h30v1h-30zM131 154h3v1h-3zM135 154h4v1h-4zM140 154h4v1h-4zM145 154h4v1h-4zM151 154h9v1h-9zM161 154h6v1h-6zM168 154h7v1h-7zM176 154h11v1h-11zM188 154h11v1h-11zM200 154h6v1h-6zM208 154h1v1h-1zM210 154h4v1h-4zM215 154h1v1h-1zM218 154h2v1h-2zM223 154h1v1h-1zM225 154h2v1h-2zM228 154h2v1h-2zM231 154h2v1h-2zM237 154h1v1h-1zM239 154h1v1h-1zM241 154h2v1h-2zM244 154h1v1h-1zM246 154h2v1h-2zM252 154h2v1h-2zM256 154h1v1h-1zM258 154h3v1h-3zM268 154h1v1h-1zM274 154h1v1h-1zM278 154h1v1h-1zM94 155h15v1h-15zM110 155h8v1h-8zM119 155h4v1h-4zM124 155h13v1h-13zM138 155h8v1h-8zM147 155h22v1h-22zM170 155h7v1h-7zM178 155h1v1h-1zM180 155h11v1h-11zM195 155h1v1h-1zM197 155h3v1h-3zM201 155h2v1h-2zM204 155h4v1h-4zM209 155h4v1h-4zM214 155h1v1h-1zM216 155h2v1h-2zM219 155h1v1h-1zM221 155h4v1h-4zM226 155h4v1h-4zM231 155h1v1h-1zM233 155h1v1h-1zM235 155h2v1h-2zM238 155h1v1h-1zM245 155h1v1h-1zM250 155h1v1h-1zM252 155h1v1h-1zM257 155h1v1h-1zM261 155h2v1h-2zM264 155h1v1h-1zM276 155h1v1h-1zM313 155h1v1h-1zM93 156h20v1h-20zM114 156h12v1h-12zM127 156h5v1h-5zM133 156h4v1h-4zM138 156h10v1h-10zM149 156h25v1h-25zM175 156h1v1h-1zM177 156h5v1h-5zM184 156h8v1h-8zM193 156h6v1h-6zM200 156h2v1h-2zM203 156h4v1h-4zM208 156h1v1h-1zM214 156h1v1h-1zM216 156h1v1h-1zM218 156h2v1h-2zM222 156h1v1h-1zM226 156h1v1h-1zM228 156h2v1h-2zM233 156h1v1h-1zM236 156h1v1h-1zM238 156h1v1h-1zM240 156h1v1h-1zM242 156h2v1h-2zM247 156h2v1h-2zM251 156h1v1h-1zM254 156h1v1h-1zM263 156h1v1h-1zM273 156h1v1h-1zM282 156h1v1h-1zM285 156h1v1h-1zM287 156h1v1h-1zM325 156h1v1h-1zM93 157h26v1h-26zM120 157h4v1h-4zM125 157h3v1h-3zM129 157h2v1h-2zM132 157h36v1h-36zM169 157h9v1h-9zM179 157h2v1h-2zM183 157h6v1h-6zM190 157h1v1h-1zM194 157h4v1h-4zM199 157h1v1h-1zM202 157h3v1h-3zM206 157h7v1h-7zM215 157h1v1h-1zM217 157h4v1h-4zM222 157h1v1h-1zM224 157h1v1h-1zM227 157h2v1h-2zM230 157h2v1h-2zM237 157h1v1h-1zM244 157h2v1h-2zM248 157h1v1h-1zM255 157h1v1h-1zM261 157h1v1h-1zM264 157h2v1h-2zM269 157h1v1h-1zM277 157h1v1h-1zM290 157h1v1h-1zM308 157h1v1h-1zM93 158h23v1h-23zM117 158h39v1h-39zM157 158h4v1h-4zM163 158h2v1h-2zM166 158h1v1h-1zM168 158h4v1h-4zM174 158h15v1h-15zM190 158h17v1h-17zM208 158h2v1h-2zM211 158h2v1h-2zM216 158h6v1h-6zM225 158h1v1h-1zM227 158h3v1h-3zM236 158h1v1h-1zM238 158h1v1h-1zM241 158h1v1h-1zM248 158h3v1h-3zM252 158h1v1h-1zM255 158h1v1h-1zM259 158h1v1h-1zM261 158h1v1h-1zM93 159h29v1h-29zM123 159h26v1h-26zM150 159h12v1h-12zM163 159h26v1h-26zM190 159h2v1h-2zM193 159h4v1h-4zM198 159h1v1h-1zM205 159h3v1h-3zM209 159h2v1h-2zM212 159h3v1h-3zM216 159h3v1h-3zM220 159h2v1h-2zM225 159h3v1h-3zM229 159h1v1h-1zM231 159h2v1h-2zM235 159h3v1h-3zM252 159h1v1h-1zM257 159h1v1h-1zM263 159h1v1h-1zM275 159h1v1h-1zM296 159h1v1h-1zM93 160h4v1h-4zM98 160h14v1h-14zM113 160h40v1h-40zM154 160h9v1h-9zM164 160h13v1h-13zM178 160h5v1h-5zM184 160h2v1h-2zM187 160h1v1h-1zM189 160h11v1h-11zM201 160h7v1h-7zM211 160h1v1h-1zM214 160h1v1h-1zM219 160h1v1h-1zM225 160h1v1h-1zM229 160h1v1h-1zM237 160h2v1h-2zM254 160h1v1h-1zM281 160h1v1h-1zM316 160h1v1h-1zM94 161h12v1h-12zM107 161h30v1h-30zM138 161h8v1h-8zM147 161h22v1h-22zM170 161h2v1h-2zM173 161h3v1h-3zM177 161h4v1h-4zM182 161h14v1h-14zM200 161h3v1h-3zM204 161h5v1h-5zM212 161h1v1h-1zM214 161h3v1h-3zM218 161h2v1h-2zM222 161h3v1h-3zM231 161h1v1h-1zM234 161h1v1h-1zM239 161h1v1h-1zM242 161h2v1h-2zM251 161h1v1h-1zM253 161h1v1h-1zM257 161h1v1h-1zM269 161h1v1h-1zM93 162h25v1h-25zM119 162h9v1h-9zM129 162h2v1h-2zM132 162h10v1h-10zM143 162h21v1h-21zM165 162h16v1h-16zM182 162h1v1h-1zM187 162h4v1h-4zM193 162h2v1h-2zM196 162h2v1h-2zM199 162h1v1h-1zM203 162h6v1h-6zM210 162h1v1h-1zM213 162h2v1h-2zM217 162h2v1h-2zM223 162h1v1h-1zM229 162h1v1h-1zM235 162h1v1h-1zM244 162h1v1h-1zM252 162h1v1h-1zM257 162h1v1h-1zM270 162h1v1h-1zM279 162h1v1h-1zM285 162h1v1h-1zM93 163h56v1h-56zM150 163h15v1h-15zM166 163h13v1h-13zM180 163h8v1h-8zM189 163h2v1h-2zM193 163h2v1h-2zM196 163h3v1h-3zM200 163h1v1h-1zM202 163h1v1h-1zM206 163h1v1h-1zM209 163h3v1h-3zM213 163h1v1h-1zM216 163h2v1h-2zM219 163h2v1h-2zM222 163h3v1h-3zM232 163h2v1h-2zM235 163h1v1h-1zM237 163h4v1h-4zM242 163h1v1h-1zM246 163h1v1h-1zM252 163h1v1h-1zM257 163h1v1h-1zM260 163h1v1h-1zM263 163h1v1h-1zM268 163h1v1h-1zM275 163h1v1h-1zM286 163h1v1h-1zM320 163h1v1h-1zM327 163h1v1h-1zM93 164h18v1h-18zM112 164h9v1h-9zM122 164h46v1h-46zM169 164h5v1h-5zM176 164h4v1h-4zM181 164h1v1h-1zM185 164h3v1h-3zM190 164h1v1h-1zM197 164h3v1h-3zM203 164h1v1h-1zM206 164h1v1h-1zM208 164h1v1h-1zM215 164h1v1h-1zM220 164h1v1h-1zM228 164h1v1h-1zM238 164h2v1h-2zM243 164h1v1h-1zM245 164h1v1h-1zM247 164h1v1h-1zM258 164h1v1h-1zM269 164h1v1h-1zM285 164h1v1h-1zM287 164h1v1h-1zM93 165h18v1h-18zM112 165h15v1h-15zM128 165h25v1h-25zM154 165h15v1h-15zM170 165h5v1h-5zM176 165h12v1h-12zM189 165h1v1h-1zM191 165h2v1h-2zM194 165h2v1h-2zM197 165h1v1h-1zM199 165h1v1h-1zM202 165h5v1h-5zM209 165h1v1h-1zM212 165h2v1h-2zM215 165h1v1h-1zM218 165h3v1h-3zM223 165h1v1h-1zM230 165h1v1h-1zM232 165h1v1h-1zM236 165h1v1h-1zM240 165h1v1h-1zM251 165h1v1h-1zM255 165h1v1h-1zM262 165h1v1h-1zM266 165h1v1h-1zM272 165h1v1h-1zM93 166h16v1h-16zM110 166h23v1h-23zM134 166h27v1h-27zM162 166h11v1h-11zM174 166h7v1h-7zM182 166h2v1h-2zM185 166h1v1h-1zM187 166h4v1h-4zM193 166h3v1h-3zM197 166h5v1h-5zM203 166h1v1h-1zM206 166h3v1h-3zM219 166h1v1h-1zM225 166h1v1h-1zM230 166h1v1h-1zM232 166h1v1h-1zM235 166h1v1h-1zM239 166h1v1h-1zM242 166h1v1h-1zM262 166h1v1h-1zM264 166h1v1h-1zM268 166h3v1h-3zM291 166h1v1h-1zM347 166h1v1h-1zM93 167h44v1h-44zM138 167h25v1h-25zM164 167h5v1h-5zM170 167h1v1h-1zM172 167h1v1h-1zM174 167h11v1h-11zM189 167h1v1h-1zM191 167h1v1h-1zM197 167h1v1h-1zM199 167h4v1h-4zM208 167h1v1h-1zM210 167h1v1h-1zM215 167h1v1h-1zM224 167h2v1h-2zM237 167h1v1h-1zM239 167h1v1h-1zM245 167h1v1h-1zM248 167h2v1h-2zM255 167h1v1h-1zM260 167h1v1h-1zM269 167h1v1h-1zM286 167h1v1h-1zM93 168h58v1h-58zM152 168h9v1h-9zM162 168h2v1h-2zM166 168h8v1h-8zM175 168h7v1h-7zM186 168h1v1h-1zM188 168h2v1h-2zM192 168h2v1h-2zM196 168h2v1h-2zM201 168h1v1h-1zM208 168h1v1h-1zM210 168h1v1h-1zM213 168h1v1h-1zM216 168h1v1h-1zM219 168h1v1h-1zM222 168h1v1h-1zM224 168h1v1h-1zM227 168h1v1h-1zM235 168h1v1h-1zM239 168h1v1h-1zM289 168h2v1h-2zM93 169h58v1h-58zM152 169h3v1h-3zM156 169h4v1h-4zM161 169h3v1h-3zM165 169h7v1h-7zM173 169h2v1h-2zM176 169h5v1h-5zM184 169h3v1h-3zM188 169h3v1h-3zM197 169h1v1h-1zM203 169h2v1h-2zM206 169h1v1h-1zM209 169h2v1h-2zM215 169h3v1h-3zM219 169h1v1h-1zM228 169h1v1h-1zM232 169h1v1h-1zM234 169h1v1h-1zM239 169h1v1h-1zM248 169h1v1h-1zM253 169h1v1h-1zM255 169h1v1h-1zM258 169h1v1h-1zM267 169h1v1h-1zM289 169h1v1h-1zM324 169h1v1h-1zM93 170h44v1h-44zM138 170h21v1h-21zM160 170h17v1h-17zM178 170h2v1h-2zM181 170h6v1h-6zM188 170h2v1h-2zM192 170h2v1h-2zM195 170h3v1h-3zM202 170h1v1h-1zM204 170h1v1h-1zM207 170h1v1h-1zM210 170h1v1h-1zM212 170h1v1h-1zM214 170h1v1h-1zM216 170h1v1h-1zM231 170h1v1h-1zM235 170h1v1h-1zM240 170h2v1h-2zM256 170h1v1h-1zM260 170h1v1h-1zM297 170h1v1h-1zM93 171h68v1h-68zM162 171h11v1h-11zM174 171h6v1h-6zM183 171h6v1h-6zM190 171h1v1h-1zM192 171h1v1h-1zM197 171h1v1h-1zM201 171h2v1h-2zM211 171h1v1h-1zM213 171h1v1h-1zM215 171h2v1h-2zM221 171h1v1h-1zM232 171h1v1h-1zM234 171h1v1h-1zM253 171h1v1h-1zM261 171h1v1h-1zM263 171h1v1h-1zM265 171h1v1h-1zM93 172h17v1h-17zM111 172h43v1h-43zM155 172h14v1h-14zM170 172h2v1h-2zM173 172h2v1h-2zM177 172h11v1h-11zM189 172h1v1h-1zM192 172h1v1h-1zM194 172h2v1h-2zM198 172h1v1h-1zM200 172h1v1h-1zM204 172h1v1h-1zM206 172h1v1h-1zM208 172h1v1h-1zM214 172h2v1h-2zM217 172h1v1h-1zM222 172h1v1h-1zM224 172h1v1h-1zM233 172h1v1h-1zM245 172h2v1h-2zM264 172h1v1h-1zM93 173h45v1h-45zM139 173h12v1h-12zM152 173h2v1h-2zM155 173h2v1h-2zM159 173h2v1h-2zM162 173h3v1h-3zM166 173h3v1h-3zM170 173h2v1h-2zM173 173h3v1h-3zM177 173h1v1h-1zM181 173h1v1h-1zM184 173h1v1h-1zM187 173h5v1h-5zM196 173h1v1h-1zM198 173h1v1h-1zM200 173h3v1h-3zM204 173h1v1h-1zM206 173h1v1h-1zM209 173h2v1h-2zM213 173h1v1h-1zM215 173h2v1h-2zM218 173h2v1h-2zM221 173h1v1h-1zM225 173h1v1h-1zM228 173h1v1h-1zM277 173h1v1h-1zM282 173h1v1h-1zM93 174h73v1h-73zM167 174h4v1h-4zM172 174h6v1h-6zM180 174h3v1h-3zM184 174h1v1h-1zM187 174h1v1h-1zM195 174h1v1h-1zM199 174h1v1h-1zM202 174h2v1h-2zM205 174h1v1h-1zM210 174h1v1h-1zM214 174h1v1h-1zM218 174h1v1h-1zM220 174h1v1h-1zM225 174h1v1h-1zM227 174h3v1h-3zM231 174h1v1h-1zM239 174h1v1h-1zM252 174h1v1h-1zM256 174h1v1h-1zM93 175h45v1h-45zM139 175h12v1h-12zM152 175h8v1h-8zM162 175h3v1h-3zM168 175h4v1h-4zM174 175h1v1h-1zM177 175h7v1h-7zM186 175h5v1h-5zM193 175h1v1h-1zM195 175h2v1h-2zM198 175h5v1h-5zM210 175h1v1h-1zM212 175h2v1h-2zM221 175h1v1h-1zM229 175h1v1h-1zM235 175h1v1h-1zM249 175h1v1h-1zM258 175h1v1h-1zM267 175h1v1h-1zM93 176h45v1h-45zM139 176h20v1h-20zM160 176h1v1h-1zM162 176h3v1h-3zM166 176h1v1h-1zM168 176h3v1h-3zM173 176h2v1h-2zM176 176h3v1h-3zM180 176h1v1h-1zM182 176h1v1h-1zM184 176h2v1h-2zM187 176h5v1h-5zM196 176h1v1h-1zM199 176h1v1h-1zM203 176h1v1h-1zM207 176h2v1h-2zM211 176h1v1h-1zM213 176h2v1h-2zM217 176h1v1h-1zM221 176h2v1h-2zM225 176h1v1h-1zM228 176h1v1h-1zM241 176h1v1h-1zM245 176h1v1h-1zM253 176h1v1h-1zM259 176h1v1h-1zM265 176h1v1h-1zM276 176h1v1h-1zM289 176h1v1h-1zM302 176h1v1h-1zM93 177h43v1h-43zM137 177h21v1h-21zM159 177h3v1h-3zM164 177h1v1h-1zM166 177h2v1h-2zM170 177h4v1h-4zM177 177h2v1h-2zM180 177h3v1h-3zM185 177h1v1h-1zM188 177h4v1h-4zM197 177h1v1h-1zM199 177h2v1h-2zM203 177h2v1h-2zM206 177h2v1h-2zM209 177h2v1h-2zM212 177h1v1h-1zM215 177h3v1h-3zM221 177h1v1h-1zM231 177h1v1h-1zM233 177h1v1h-1zM240 177h1v1h-1zM248 177h1v1h-1zM264 177h1v1h-1zM268 177h2v1h-2zM312 177h1v1h-1zM93 178h38v1h-38zM132 178h13v1h-13zM146 178h4v1h-4zM152 178h1v1h-1zM154 178h2v1h-2zM157 178h3v1h-3zM162 178h4v1h-4zM168 178h1v1h-1zM170 178h5v1h-5zM176 178h1v1h-1zM179 178h1v1h-1zM183 178h1v1h-1zM187 178h1v1h-1zM189 178h2v1h-2zM192 178h2v1h-2zM195 178h2v1h-2zM198 178h2v1h-2zM203 178h1v1h-1zM206 178h1v1h-1zM213 178h1v1h-1zM216 178h1v1h-1zM218 178h1v1h-1zM234 178h1v1h-1zM238 178h3v1h-3zM270 178h1v1h-1zM287 178h1v1h-1zM290 178h1v1h-1zM306 178h1v1h-1zM93 179h35v1h-35zM129 179h18v1h-18zM148 179h2v1h-2zM151 179h8v1h-8zM160 179h5v1h-5zM167 179h1v1h-1zM170 179h1v1h-1zM172 179h3v1h-3zM178 179h2v1h-2zM181 179h1v1h-1zM184 179h1v1h-1zM188 179h1v1h-1zM192 179h2v1h-2zM196 179h1v1h-1zM199 179h1v1h-1zM209 179h2v1h-2zM215 179h1v1h-1zM218 179h1v1h-1zM220 179h3v1h-3zM240 179h1v1h-1zM244 179h1v1h-1zM93 180h32v1h-32zM126 180h1v1h-1zM128 180h16v1h-16zM145 180h3v1h-3zM149 180h2v1h-2zM152 180h9v1h-9zM162 180h1v1h-1zM164 180h7v1h-7zM172 180h5v1h-5zM187 180h2v1h-2zM190 180h3v1h-3zM194 180h1v1h-1zM196 180h1v1h-1zM199 180h1v1h-1zM207 180h1v1h-1zM212 180h1v1h-1zM232 180h2v1h-2zM246 180h1v1h-1zM261 180h1v1h-1zM93 181h45v1h-45zM139 181h3v1h-3zM143 181h13v1h-13zM157 181h4v1h-4zM162 181h2v1h-2zM165 181h1v1h-1zM167 181h1v1h-1zM170 181h4v1h-4zM175 181h3v1h-3zM179 181h3v1h-3zM183 181h3v1h-3zM188 181h2v1h-2zM193 181h1v1h-1zM197 181h1v1h-1zM199 181h3v1h-3zM208 181h3v1h-3zM212 181h2v1h-2zM220 181h1v1h-1zM230 181h1v1h-1zM232 181h1v1h-1zM238 181h3v1h-3zM244 181h1v1h-1zM249 181h1v1h-1zM93 182h43v1h-43zM137 182h10v1h-10zM148 182h4v1h-4zM153 182h1v1h-1zM156 182h1v1h-1zM158 182h4v1h-4zM164 182h1v1h-1zM166 182h1v1h-1zM168 182h1v1h-1zM170 182h3v1h-3zM174 182h1v1h-1zM176 182h2v1h-2zM181 182h1v1h-1zM184 182h4v1h-4zM189 182h2v1h-2zM192 182h1v1h-1zM198 182h4v1h-4zM208 182h1v1h-1zM212 182h2v1h-2zM216 182h1v1h-1zM229 182h1v1h-1zM252 182h1v1h-1zM280 182h1v1h-1zM93 183h37v1h-37zM131 183h23v1h-23zM155 183h1v1h-1zM157 183h2v1h-2zM162 183h2v1h-2zM165 183h3v1h-3zM169 183h2v1h-2zM177 183h1v1h-1zM180 183h3v1h-3zM184 183h3v1h-3zM188 183h3v1h-3zM197 183h1v1h-1zM199 183h2v1h-2zM202 183h1v1h-1zM214 183h1v1h-1zM219 183h1v1h-1zM222 183h1v1h-1zM227 183h1v1h-1zM244 183h1v1h-1zM246 183h1v1h-1zM260 183h1v1h-1zM342 183h1v1h-1zM93 184h14v1h-14zM108 184h28v1h-28zM138 184h11v1h-11zM150 184h5v1h-5zM156 184h1v1h-1zM158 184h2v1h-2zM161 184h1v1h-1zM165 184h8v1h-8zM174 184h3v1h-3zM178 184h2v1h-2zM181 184h1v1h-1zM184 184h1v1h-1zM186 184h1v1h-1zM189 184h2v1h-2zM192 184h2v1h-2zM198 184h2v1h-2zM203 184h1v1h-1zM205 184h1v1h-1zM207 184h1v1h-1zM209 184h4v1h-4zM214 184h1v1h-1zM221 184h1v1h-1zM227 184h1v1h-1zM232 184h1v1h-1zM237 184h1v1h-1zM239 184h2v1h-2zM93 185h43v1h-43zM137 185h16v1h-16zM154 185h1v1h-1zM156 185h1v1h-1zM159 185h1v1h-1zM161 185h2v1h-2zM165 185h8v1h-8zM175 185h1v1h-1zM177 185h5v1h-5zM184 185h1v1h-1zM186 185h3v1h-3zM193 185h1v1h-1zM196 185h1v1h-1zM202 185h1v1h-1zM206 185h1v1h-1zM208 185h1v1h-1zM215 185h1v1h-1zM217 185h1v1h-1zM233 185h1v1h-1zM273 185h1v1h-1zM295 185h1v1h-1zM93 186h44v1h-44zM138 186h1v1h-1zM140 186h7v1h-7zM148 186h1v1h-1zM150 186h1v1h-1zM152 186h4v1h-4zM158 186h4v1h-4zM163 186h1v1h-1zM165 186h5v1h-5zM171 186h2v1h-2zM176 186h8v1h-8zM194 186h1v1h-1zM198 186h1v1h-1zM200 186h1v1h-1zM202 186h2v1h-2zM210 186h1v1h-1zM213 186h1v1h-1zM250 186h1v1h-1zM254 186h1v1h-1zM268 186h1v1h-1zM288 186h1v1h-1zM297 186h1v1h-1zM93 187h32v1h-32zM126 187h2v1h-2zM129 187h2v1h-2zM132 187h2v1h-2zM135 187h11v1h-11zM147 187h4v1h-4zM152 187h1v1h-1zM154 187h2v1h-2zM157 187h1v1h-1zM159 187h1v1h-1zM161 187h3v1h-3zM166 187h2v1h-2zM169 187h6v1h-6zM177 187h1v1h-1zM179 187h1v1h-1zM181 187h1v1h-1zM184 187h1v1h-1zM186 187h3v1h-3zM190 187h1v1h-1zM192 187h1v1h-1zM197 187h3v1h-3zM205 187h1v1h-1zM211 187h1v1h-1zM220 187h1v1h-1zM224 187h1v1h-1zM226 187h1v1h-1zM261 187h1v1h-1zM266 187h1v1h-1zM272 187h1v1h-1zM93 188h12v1h-12zM106 188h39v1h-39zM146 188h1v1h-1zM148 188h3v1h-3zM153 188h1v1h-1zM155 188h1v1h-1zM157 188h1v1h-1zM159 188h3v1h-3zM165 188h4v1h-4zM171 188h2v1h-2zM174 188h3v1h-3zM182 188h1v1h-1zM186 188h2v1h-2zM190 188h1v1h-1zM192 188h1v1h-1zM194 188h2v1h-2zM199 188h2v1h-2zM203 188h1v1h-1zM205 188h1v1h-1zM207 188h1v1h-1zM216 188h1v1h-1zM218 188h1v1h-1zM220 188h2v1h-2zM228 188h1v1h-1zM232 188h1v1h-1zM255 188h1v1h-1zM260 188h1v1h-1zM93 189h25v1h-25zM119 189h24v1h-24zM144 189h3v1h-3zM149 189h7v1h-7zM158 189h3v1h-3zM163 189h1v1h-1zM165 189h1v1h-1zM168 189h1v1h-1zM170 189h4v1h-4zM175 189h2v1h-2zM180 189h2v1h-2zM185 189h2v1h-2zM188 189h3v1h-3zM193 189h1v1h-1zM198 189h1v1h-1zM200 189h1v1h-1zM211 189h1v1h-1zM215 189h1v1h-1zM217 189h1v1h-1zM228 189h1v1h-1zM93 190h40v1h-40zM134 190h4v1h-4zM139 190h3v1h-3zM143 190h6v1h-6zM150 190h1v1h-1zM154 190h2v1h-2zM158 190h1v1h-1zM161 190h3v1h-3zM166 190h5v1h-5zM174 190h1v1h-1zM176 190h4v1h-4zM188 190h2v1h-2zM191 190h1v1h-1zM196 190h1v1h-1zM199 190h1v1h-1zM203 190h1v1h-1zM205 190h1v1h-1zM207 190h1v1h-1zM212 190h1v1h-1zM217 190h1v1h-1zM93 191h32v1h-32zM126 191h12v1h-12zM140 191h4v1h-4zM145 191h5v1h-5zM151 191h1v1h-1zM153 191h3v1h-3zM157 191h1v1h-1zM160 191h1v1h-1zM164 191h1v1h-1zM167 191h2v1h-2zM171 191h1v1h-1zM174 191h2v1h-2zM178 191h3v1h-3zM182 191h3v1h-3zM186 191h4v1h-4zM193 191h1v1h-1zM195 191h3v1h-3zM200 191h1v1h-1zM207 191h2v1h-2zM216 191h1v1h-1zM220 191h1v1h-1zM222 191h1v1h-1zM253 191h2v1h-2zM299 191h1v1h-1zM93 192h25v1h-25zM119 192h4v1h-4zM124 192h1v1h-1zM126 192h12v1h-12zM140 192h1v1h-1zM142 192h3v1h-3zM146 192h6v1h-6zM154 192h1v1h-1zM157 192h1v1h-1zM159 192h1v1h-1zM161 192h1v1h-1zM163 192h1v1h-1zM165 192h3v1h-3zM172 192h2v1h-2zM179 192h1v1h-1zM182 192h5v1h-5zM189 192h1v1h-1zM192 192h1v1h-1zM194 192h1v1h-1zM196 192h3v1h-3zM206 192h1v1h-1zM210 192h1v1h-1zM220 192h1v1h-1zM252 192h1v1h-1zM93 193h18v1h-18zM112 193h17v1h-17zM130 193h8v1h-8zM139 193h3v1h-3zM143 193h6v1h-6zM150 193h2v1h-2zM155 193h1v1h-1zM157 193h1v1h-1zM159 193h1v1h-1zM161 193h3v1h-3zM168 193h1v1h-1zM170 193h1v1h-1zM172 193h1v1h-1zM176 193h1v1h-1zM178 193h1v1h-1zM180 193h2v1h-2zM184 193h1v1h-1zM187 193h1v1h-1zM189 193h1v1h-1zM192 193h1v1h-1zM194 193h1v1h-1zM197 193h1v1h-1zM202 193h1v1h-1zM209 193h1v1h-1zM211 193h1v1h-1zM213 193h1v1h-1zM222 193h1v1h-1zM237 193h1v1h-1zM246 193h1v1h-1zM263 193h1v1h-1zM280 193h1v1h-1zM289 193h1v1h-1zM93 194h25v1h-25zM119 194h2v1h-2zM122 194h2v1h-2zM125 194h5v1h-5zM131 194h5v1h-5zM139 194h1v1h-1zM141 194h2v1h-2zM144 194h5v1h-5zM150 194h4v1h-4zM155 194h4v1h-4zM164 194h1v1h-1zM167 194h7v1h-7zM179 194h1v1h-1zM184 194h2v1h-2zM188 194h1v1h-1zM190 194h2v1h-2zM193 194h1v1h-1zM195 194h1v1h-1zM204 194h3v1h-3zM208 194h1v1h-1zM222 194h1v1h-1zM228 194h1v1h-1zM93 195h44v1h-44zM138 195h1v1h-1zM140 195h4v1h-4zM145 195h3v1h-3zM149 195h4v1h-4zM154 195h1v1h-1zM156 195h5v1h-5zM163 195h4v1h-4zM168 195h2v1h-2zM174 195h2v1h-2zM177 195h4v1h-4zM183 195h2v1h-2zM186 195h2v1h-2zM191 195h1v1h-1zM195 195h1v1h-1zM198 195h1v1h-1zM204 195h1v1h-1zM217 195h1v1h-1zM219 195h1v1h-1zM221 195h1v1h-1zM223 195h1v1h-1zM240 195h1v1h-1zM245 195h1v1h-1zM268 195h1v1h-1zM93 196h18v1h-18zM112 196h6v1h-6zM119 196h6v1h-6zM126 196h3v1h-3zM130 196h9v1h-9zM140 196h2v1h-2zM144 196h2v1h-2zM147 196h3v1h-3zM152 196h1v1h-1zM154 196h3v1h-3zM158 196h3v1h-3zM164 196h1v1h-1zM170 196h2v1h-2zM173 196h2v1h-2zM177 196h3v1h-3zM184 196h3v1h-3zM190 196h1v1h-1zM192 196h1v1h-1zM194 196h1v1h-1zM197 196h1v1h-1zM200 196h1v1h-1zM203 196h1v1h-1zM207 196h1v1h-1zM212 196h1v1h-1zM214 196h1v1h-1zM226 196h1v1h-1zM231 196h1v1h-1zM245 196h1v1h-1zM261 196h1v1h-1zM272 196h1v1h-1zM286 196h1v1h-1zM93 197h11v1h-11zM105 197h10v1h-10zM116 197h8v1h-8zM126 197h4v1h-4zM131 197h2v1h-2zM134 197h2v1h-2zM137 197h2v1h-2zM141 197h1v1h-1zM145 197h1v1h-1zM147 197h2v1h-2zM151 197h1v1h-1zM154 197h1v1h-1zM157 197h3v1h-3zM161 197h2v1h-2zM167 197h6v1h-6zM174 197h2v1h-2zM180 197h2v1h-2zM189 197h1v1h-1zM191 197h2v1h-2zM199 197h1v1h-1zM205 197h1v1h-1zM222 197h1v1h-1zM228 197h2v1h-2zM232 197h1v1h-1zM246 197h1v1h-1zM257 197h1v1h-1zM265 197h1v1h-1zM285 197h1v1h-1zM93 198h18v1h-18zM112 198h4v1h-4zM118 198h3v1h-3zM123 198h6v1h-6zM130 198h1v1h-1zM132 198h1v1h-1zM134 198h2v1h-2zM137 198h2v1h-2zM141 198h5v1h-5zM150 198h2v1h-2zM155 198h1v1h-1zM161 198h1v1h-1zM165 198h1v1h-1zM167 198h2v1h-2zM170 198h2v1h-2zM174 198h5v1h-5zM182 198h1v1h-1zM184 198h1v1h-1zM187 198h2v1h-2zM193 198h1v1h-1zM210 198h1v1h-1zM217 198h1v1h-1zM239 198h1v1h-1zM249 198h1v1h-1zM316 198h1v1h-1zM94 199h6v1h-6zM101 199h10v1h-10zM112 199h3v1h-3zM116 199h3v1h-3zM120 199h4v1h-4zM125 199h2v1h-2zM128 199h2v1h-2zM131 199h3v1h-3zM135 199h4v1h-4zM141 199h1v1h-1zM144 199h1v1h-1zM146 199h1v1h-1zM148 199h2v1h-2zM151 199h1v1h-1zM154 199h1v1h-1zM156 199h4v1h-4zM161 199h2v1h-2zM167 199h2v1h-2zM170 199h1v1h-1zM174 199h2v1h-2zM180 199h2v1h-2zM185 199h1v1h-1zM188 199h1v1h-1zM192 199h1v1h-1zM198 199h1v1h-1zM202 199h1v1h-1zM205 199h1v1h-1zM208 199h1v1h-1zM213 199h1v1h-1zM224 199h1v1h-1zM228 199h1v1h-1zM245 199h1v1h-1zM287 199h1v1h-1zM311 199h1v1h-1zM93 200h17v1h-17zM111 200h2v1h-2zM114 200h3v1h-3zM118 200h7v1h-7zM127 200h4v1h-4zM132 200h6v1h-6zM141 200h1v1h-1zM143 200h1v1h-1zM145 200h1v1h-1zM147 200h2v1h-2zM150 200h1v1h-1zM154 200h1v1h-1zM156 200h2v1h-2zM159 200h1v1h-1zM162 200h1v1h-1zM164 200h2v1h-2zM172 200h1v1h-1zM174 200h1v1h-1zM176 200h3v1h-3zM180 200h1v1h-1zM182 200h1v1h-1zM186 200h2v1h-2zM193 200h1v1h-1zM196 200h2v1h-2zM200 200h1v1h-1zM202 200h1v1h-1zM209 200h1v1h-1zM212 200h2v1h-2zM217 200h1v1h-1zM225 200h1v1h-1zM262 200h1v1h-1zM307 200h1v1h-1zM93 201h13v1h-13zM107 201h2v1h-2zM110 201h15v1h-15zM126 201h2v1h-2zM129 201h1v1h-1zM131 201h1v1h-1zM133 201h2v1h-2zM136 201h1v1h-1zM138 201h1v1h-1zM140 201h1v1h-1zM144 201h1v1h-1zM147 201h1v1h-1zM149 201h2v1h-2zM152 201h2v1h-2zM155 201h1v1h-1zM159 201h2v1h-2zM163 201h3v1h-3zM167 201h5v1h-5zM173 201h2v1h-2zM183 201h1v1h-1zM190 201h2v1h-2zM195 201h1v1h-1zM209 201h1v1h-1zM212 201h1v1h-1zM216 201h1v1h-1zM218 201h1v1h-1zM220 201h1v1h-1zM247 201h1v1h-1zM93 202h1v1h-1zM95 202h7v1h-7zM103 202h1v1h-1zM105 202h9v1h-9zM117 202h3v1h-3zM121 202h3v1h-3zM125 202h1v1h-1zM127 202h3v1h-3zM131 202h2v1h-2zM135 202h7v1h-7zM143 202h2v1h-2zM149 202h1v1h-1zM151 202h1v1h-1zM156 202h4v1h-4zM162 202h2v1h-2zM165 202h1v1h-1zM170 202h2v1h-2zM174 202h1v1h-1zM176 202h1v1h-1zM179 202h1v1h-1zM194 202h1v1h-1zM208 202h1v1h-1zM214 202h1v1h-1zM217 202h1v1h-1zM226 202h1v1h-1zM93 203h20v1h-20zM114 203h1v1h-1zM116 203h7v1h-7zM124 203h1v1h-1zM126 203h1v1h-1zM130 203h2v1h-2zM133 203h3v1h-3zM137 203h1v1h-1zM139 203h1v1h-1zM142 203h5v1h-5zM149 203h3v1h-3zM158 203h1v1h-1zM161 203h1v1h-1zM164 203h2v1h-2zM167 203h1v1h-1zM169 203h2v1h-2zM172 203h1v1h-1zM176 203h2v1h-2zM181 203h2v1h-2zM184 203h1v1h-1zM189 203h1v1h-1zM195 203h1v1h-1zM207 203h2v1h-2zM220 203h1v1h-1zM93 204h17v1h-17zM111 204h4v1h-4zM116 204h2v1h-2zM119 204h8v1h-8zM128 204h1v1h-1zM130 204h5v1h-5zM136 204h5v1h-5zM142 204h2v1h-2zM145 204h1v1h-1zM147 204h2v1h-2zM150 204h2v1h-2zM154 204h1v1h-1zM157 204h1v1h-1zM160 204h1v1h-1zM162 204h1v1h-1zM167 204h2v1h-2zM170 204h1v1h-1zM173 204h1v1h-1zM175 204h3v1h-3zM180 204h1v1h-1zM184 204h1v1h-1zM187 204h1v1h-1zM192 204h1v1h-1zM198 204h1v1h-1zM210 204h1v1h-1zM215 204h1v1h-1zM220 204h1v1h-1zM229 204h1v1h-1zM317 204h1v1h-1zM93 205h2v1h-2zM96 205h7v1h-7zM104 205h2v1h-2zM107 205h18v1h-18zM126 205h4v1h-4zM132 205h3v1h-3zM136 205h2v1h-2zM139 205h3v1h-3zM144 205h2v1h-2zM147 205h2v1h-2zM151 205h1v1h-1zM153 205h1v1h-1zM155 205h3v1h-3zM160 205h1v1h-1zM165 205h1v1h-1zM169 205h3v1h-3zM173 205h1v1h-1zM177 205h1v1h-1zM181 205h2v1h-2zM184 205h1v1h-1zM188 205h1v1h-1zM195 205h2v1h-2zM204 205h1v1h-1zM206 205h3v1h-3zM215 205h1v1h-1zM239 205h1v1h-1zM259 205h1v1h-1zM93 206h21v1h-21zM116 206h6v1h-6zM123 206h7v1h-7zM131 206h2v1h-2zM135 206h3v1h-3zM139 206h4v1h-4zM145 206h2v1h-2zM149 206h4v1h-4zM154 206h1v1h-1zM156 206h1v1h-1zM158 206h1v1h-1zM160 206h2v1h-2zM164 206h4v1h-4zM177 206h1v1h-1zM179 206h1v1h-1zM181 206h2v1h-2zM186 206h1v1h-1zM193 206h1v1h-1zM199 206h2v1h-2zM202 206h1v1h-1zM209 206h1v1h-1zM212 206h2v1h-2zM233 206h1v1h-1zM273 206h1v1h-1zM93 207h3v1h-3zM97 207h17v1h-17zM115 207h4v1h-4zM120 207h8v1h-8zM129 207h2v1h-2zM132 207h1v1h-1zM134 207h3v1h-3zM140 207h1v1h-1zM145 207h2v1h-2zM148 207h1v1h-1zM150 207h1v1h-1zM154 207h1v1h-1zM156 207h1v1h-1zM161 207h1v1h-1zM167 207h1v1h-1zM172 207h3v1h-3zM177 207h1v1h-1zM179 207h1v1h-1zM186 207h4v1h-4zM207 207h1v1h-1zM213 207h1v1h-1zM224 207h1v1h-1zM240 207h1v1h-1zM93 208h8v1h-8zM102 208h7v1h-7zM110 208h11v1h-11zM122 208h1v1h-1zM124 208h1v1h-1zM126 208h1v1h-1zM128 208h2v1h-2zM133 208h2v1h-2zM137 208h1v1h-1zM140 208h1v1h-1zM143 208h1v1h-1zM148 208h4v1h-4zM154 208h1v1h-1zM160 208h2v1h-2zM164 208h1v1h-1zM168 208h2v1h-2zM181 208h2v1h-2zM186 208h1v1h-1zM193 208h1v1h-1zM195 208h2v1h-2zM201 208h1v1h-1zM204 208h4v1h-4zM210 208h1v1h-1zM239 208h1v1h-1zM263 208h1v1h-1zM93 209h2v1h-2zM96 209h16v1h-16zM113 209h6v1h-6zM121 209h1v1h-1zM123 209h1v1h-1zM125 209h2v1h-2zM130 209h4v1h-4zM136 209h1v1h-1zM138 209h2v1h-2zM143 209h1v1h-1zM145 209h3v1h-3zM149 209h1v1h-1zM156 209h1v1h-1zM160 209h1v1h-1zM162 209h2v1h-2zM165 209h1v1h-1zM168 209h1v1h-1zM170 209h1v1h-1zM176 209h3v1h-3zM183 209h1v1h-1zM185 209h1v1h-1zM188 209h1v1h-1zM196 209h1v1h-1zM203 209h1v1h-1zM219 209h1v1h-1zM229 209h1v1h-1zM234 209h1v1h-1zM249 209h1v1h-1zM93 210h10v1h-10zM104 210h1v1h-1zM106 210h1v1h-1zM108 210h3v1h-3zM112 210h2v1h-2zM116 210h1v1h-1zM118 210h1v1h-1zM120 210h3v1h-3zM124 210h9v1h-9zM135 210h1v1h-1zM138 210h2v1h-2zM141 210h1v1h-1zM143 210h1v1h-1zM149 210h1v1h-1zM151 210h1v1h-1zM159 210h1v1h-1zM164 210h1v1h-1zM167 210h1v1h-1zM174 210h1v1h-1zM190 210h1v1h-1zM194 210h1v1h-1zM206 210h2v1h-2zM209 210h1v1h-1zM215 210h1v1h-1zM233 210h1v1h-1zM93 211h12v1h-12zM106 211h2v1h-2zM109 211h6v1h-6zM116 211h1v1h-1zM118 211h1v1h-1zM120 211h4v1h-4zM125 211h2v1h-2zM131 211h1v1h-1zM134 211h2v1h-2zM142 211h1v1h-1zM149 211h1v1h-1zM151 211h1v1h-1zM172 211h2v1h-2zM177 211h1v1h-1zM182 211h1v1h-1zM185 211h1v1h-1zM232 211h1v1h-1zM261 211h1v1h-1zM93 212h1v1h-1zM95 212h5v1h-5zM101 212h1v1h-1zM103 212h8v1h-8zM112 212h11v1h-11zM124 212h3v1h-3zM128 212h3v1h-3zM132 212h2v1h-2zM136 212h1v1h-1zM145 212h1v1h-1zM148 212h2v1h-2zM157 212h2v1h-2zM162 212h2v1h-2zM168 212h1v1h-1zM170 212h1v1h-1zM175 212h1v1h-1zM177 212h1v1h-1zM179 212h1v1h-1zM187 212h1v1h-1zM220 212h1v1h-1zM255 212h1v1h-1zM93 213h14v1h-14zM108 213h1v1h-1zM110 213h1v1h-1zM112 213h5v1h-5zM118 213h1v1h-1zM120 213h2v1h-2zM123 213h1v1h-1zM126 213h4v1h-4zM131 213h5v1h-5zM138 213h1v1h-1zM141 213h1v1h-1zM143 213h1v1h-1zM145 213h1v1h-1zM147 213h1v1h-1zM149 213h1v1h-1zM151 213h1v1h-1zM154 213h1v1h-1zM156 213h1v1h-1zM158 213h1v1h-1zM162 213h1v1h-1zM170 213h1v1h-1zM173 213h2v1h-2zM176 213h2v1h-2zM180 213h2v1h-2zM185 213h3v1h-3zM193 213h2v1h-2zM199 213h2v1h-2zM204 213h1v1h-1zM229 213h1v1h-1zM93 214h3v1h-3zM97 214h5v1h-5zM103 214h3v1h-3zM107 214h2v1h-2zM111 214h3v1h-3zM115 214h1v1h-1zM118 214h2v1h-2zM124 214h3v1h-3zM128 214h1v1h-1zM137 214h1v1h-1zM142 214h1v1h-1zM144 214h1v1h-1zM149 214h1v1h-1zM152 214h1v1h-1zM160 214h1v1h-1zM163 214h2v1h-2zM166 214h2v1h-2zM170 214h1v1h-1zM179 214h4v1h-4zM189 214h1v1h-1zM210 214h1v1h-1zM233 214h1v1h-1zM235 214h1v1h-1zM242 214h1v1h-1zM94 215h2v1h-2zM97 215h1v1h-1zM99 215h2v1h-2zM103 215h4v1h-4zM108 215h2v1h-2zM111 215h2v1h-2zM114 215h3v1h-3zM119 215h1v1h-1zM122 215h1v1h-1zM127 215h3v1h-3zM136 215h1v1h-1zM138 215h1v1h-1zM140 215h2v1h-2zM144 215h2v1h-2zM151 215h1v1h-1zM153 215h1v1h-1zM157 215h1v1h-1zM161 215h1v1h-1zM163 215h1v1h-1zM168 215h1v1h-1zM171 215h2v1h-2zM177 215h1v1h-1zM185 215h2v1h-2zM191 215h1v1h-1zM201 215h1v1h-1zM222 215h1v1h-1zM239 215h1v1h-1zM252 215h1v1h-1zM93 216h2v1h-2zM96 216h2v1h-2zM100 216h1v1h-1zM104 216h1v1h-1zM107 216h2v1h-2zM112 216h1v1h-1zM115 216h2v1h-2zM120 216h1v1h-1zM122 216h2v1h-2zM125 216h2v1h-2zM128 216h1v1h-1zM130 216h3v1h-3zM135 216h1v1h-1zM138 216h2v1h-2zM145 216h1v1h-1zM147 216h2v1h-2zM153 216h1v1h-1zM155 216h1v1h-1zM157 216h1v1h-1zM159 216h2v1h-2zM171 216h1v1h-1zM175 216h1v1h-1zM189 216h1v1h-1zM195 216h1v1h-1zM210 216h1v1h-1zM238 216h1v1h-1zM264 216h1v1h-1zM93 217h1v1h-1zM96 217h1v1h-1zM100 217h2v1h-2zM103 217h2v1h-2zM107 217h1v1h-1zM111 217h1v1h-1zM113 217h1v1h-1zM117 217h2v1h-2zM121 217h3v1h-3zM125 217h3v1h-3zM130 217h3v1h-3zM134 217h1v1h-1zM138 217h3v1h-3zM144 217h3v1h-3zM150 217h2v1h-2zM153 217h1v1h-1zM164 217h1v1h-1zM170 217h1v1h-1zM193 217h1v1h-1zM202 217h1v1h-1zM218 217h1v1h-1zM230 217h1v1h-1zM295 217h1v1h-1zM93 218h1v1h-1zM95 218h1v1h-1zM99 218h1v1h-1zM103 218h1v1h-1zM105 218h1v1h-1zM107 218h1v1h-1zM110 218h1v1h-1zM112 218h4v1h-4zM117 218h1v1h-1zM120 218h1v1h-1zM125 218h1v1h-1zM129 218h1v1h-1zM133 218h1v1h-1zM135 218h1v1h-1zM137 218h1v1h-1zM139 218h1v1h-1zM141 218h5v1h-5zM148 218h1v1h-1zM153 218h1v1h-1zM157 218h1v1h-1zM163 218h1v1h-1zM178 218h1v1h-1zM184 218h1v1h-1zM192 218h1v1h-1zM215 218h1v1h-1zM251 218h1v1h-1zM289 218h1v1h-1zM302 218h1v1h-1zM94 219h2v1h-2zM97 219h2v1h-2zM100 219h1v1h-1zM114 219h1v1h-1zM116 219h1v1h-1zM119 219h2v1h-2zM122 219h1v1h-1zM124 219h1v1h-1zM126 219h1v1h-1zM142 219h1v1h-1zM144 219h1v1h-1zM160 219h1v1h-1zM164 219h1v1h-1zM168 219h1v1h-1zM176 219h1v1h-1zM179 219h1v1h-1zM183 219h1v1h-1zM185 219h1v1h-1zM187 219h1v1h-1zM190 219h1v1h-1zM194 219h1v1h-1zM199 219h1v1h-1zM207 219h2v1h-2zM255 219h1v1h-1zM272 219h1v1h-1zM93 220h1v1h-1zM95 220h1v1h-1zM97 220h3v1h-3zM101 220h1v1h-1zM105 220h2v1h-2zM108 220h2v1h-2zM112 220h1v1h-1zM115 220h1v1h-1zM120 220h1v1h-1zM125 220h1v1h-1zM127 220h2v1h-2zM134 220h2v1h-2zM140 220h1v1h-1zM143 220h1v1h-1zM157 220h2v1h-2zM160 220h3v1h-3zM168 220h1v1h-1zM181 220h1v1h-1zM185 220h1v1h-1zM210 220h1v1h-1zM227 220h1v1h-1zM277 220h1v1h-1zM317 220h1v1h-1zM368 220h1v1h-1zM93 221h2v1h-2zM96 221h1v1h-1zM98 221h3v1h-3zM102 221h2v1h-2zM105 221h1v1h-1zM108 221h3v1h-3zM113 221h1v1h-1zM115 221h1v1h-1zM119 221h2v1h-2zM122 221h1v1h-1zM130 221h1v1h-1zM132 221h1v1h-1zM141 221h1v1h-1zM145 221h1v1h-1zM148 221h1v1h-1zM151 221h1v1h-1zM155 221h2v1h-2zM158 221h1v1h-1zM164 221h2v1h-2zM174 221h1v1h-1zM179 221h1v1h-1zM202 221h1v1h-1zM207 221h1v1h-1zM93 222h1v1h-1zM95 222h2v1h-2zM100 222h2v1h-2zM104 222h1v1h-1zM107 222h3v1h-3zM114 222h1v1h-1zM124 222h2v1h-2zM129 222h1v1h-1zM136 222h1v1h-1zM144 222h1v1h-1zM147 222h2v1h-2zM154 222h1v1h-1zM157 222h1v1h-1zM159 222h1v1h-1zM164 222h1v1h-1zM166 222h1v1h-1zM168 222h1v1h-1zM176 222h1v1h-1zM181 222h1v1h-1zM188 222h2v1h-2zM210 222h1v1h-1zM231 222h1v1h-1zM93 223h1v1h-1zM98 223h1v1h-1zM106 223h1v1h-1zM109 223h3v1h-3zM113 223h2v1h-2zM122 223h1v1h-1zM125 223h1v1h-1zM129 223h1v1h-1zM142 223h3v1h-3zM149 223h2v1h-2zM152 223h2v1h-2zM155 223h1v1h-1zM160 223h1v1h-1zM163 223h1v1h-1zM179 223h1v1h-1zM183 223h1v1h-1zM189 223h1v1h-1zM201 223h1v1h-1zM207 223h1v1h-1z" fill="#808080" shape-rendering="crispEdges"/>
<path d="M154.87 18.7V232.3" stroke="#111" stroke-width="1.1" stroke-dasharray="4.1 3.35" fill="none"/>
<path d="M88.24 170.8H375.3" stroke="#111" stroke-width="1.1" stroke-dasharray="4.2 3.56" fill="none"/>
<g fill="#000"><circle cx="125.5" cy="99.9" r="3.4"/><circle cx="167.4" cy="97.5" r="3.4"/><circle cx="157.8" cy="132.6" r="3.4"/><circle cx="163.0" cy="138.1" r="3.4"/><circle cx="186.9" cy="76.6" r="3.4"/><circle cx="193.9" cy="74.2" r="3.4"/><circle cx="251.0" cy="64.8" r="3.4"/><circle cx="234.1" cy="85.2" r="3.4"/><circle cx="263.4" cy="94.7" r="3.4"/><circle cx="287.6" cy="94.0" r="3.4"/><circle cx="237.8" cy="99.3" r="3.4"/><circle cx="269.4" cy="104.4" r="3.4"/><circle cx="293.0" cy="104.7" r="3.4"/><circle cx="295.3" cy="102.3" r="3.4"/><circle cx="251.0" cy="107.8" r="3.4"/><circle cx="240.0" cy="114.4" r="3.4"/><circle cx="247.7" cy="114.9" r="3.4"/><circle cx="263.2" cy="117.8" r="3.4"/><circle cx="250.8" cy="124.8" r="3.4"/><circle cx="273.2" cy="124.0" r="3.4"/><circle cx="189.9" cy="111.5" r="3.4"/><circle cx="218.4" cy="115.5" r="3.4"/><circle cx="214.8" cy="119.5" r="3.4"/><circle cx="217.2" cy="123.9" r="3.4"/><circle cx="198.5" cy="124.3" r="3.4"/><circle cx="185.0" cy="127.9" r="3.4"/><circle cx="189.9" cy="128.3" r="3.4"/><circle cx="208.9" cy="130.9" r="3.4"/><circle cx="195.5" cy="133.5" r="3.4"/><circle cx="200.5" cy="135.4" r="3.4"/><circle cx="208.5" cy="135.4" r="3.4"/><circle cx="214.8" cy="136.8" r="3.4"/><circle cx="218.8" cy="137.2" r="3.4"/><circle cx="225.8" cy="133.9" r="3.4"/><circle cx="174.7" cy="144.9" r="3.4"/><circle cx="208.7" cy="145.4" r="3.4"/><circle cx="187.0" cy="148.9" r="3.4"/><circle cx="195.9" cy="148.9" r="3.4"/><circle cx="176.0" cy="156.0" r="3.4"/><circle cx="185.0" cy="156.0" r="3.4"/><circle cx="192.5" cy="154.6" r="3.4"/><circle cx="225.8" cy="154.6" r="3.4"/><circle cx="188.3" cy="164.5" r="3.4"/><circle cx="227.4" cy="164.5" r="3.4"/><circle cx="217.2" cy="171.9" r="3.4"/><circle cx="166.4" cy="146.0" r="3.4"/><circle cx="147.9" cy="162.9" r="3.4"/><circle cx="152.3" cy="168.9" r="3.4"/><circle cx="161.4" cy="172.3" r="3.4"/><circle cx="274.8" cy="132.9" r="3.4"/><circle cx="286.8" cy="133.5" r="3.4"/><circle cx="259.9" cy="140.3" r="3.4"/><circle cx="242.6" cy="144.3" r="3.4"/><circle cx="250.9" cy="150.5" r="3.4"/><circle cx="236.0" cy="152.3" r="3.4"/><circle cx="262.9" cy="151.3" r="3.4"/><circle cx="266.3" cy="151.9" r="3.4"/><circle cx="259.9" cy="158.2" r="3.4"/><circle cx="267.9" cy="164.7" r="3.4"/><circle cx="301.9" cy="111.5" r="3.4"/><circle cx="319.5" cy="112.5" r="3.4"/><circle cx="307.3" cy="170.6" r="3.4"/><circle cx="236.0" cy="175.0" r="3.4"/><circle cx="266.5" cy="189.5" r="3.4"/></g>
<circle cx="272.2" cy="84.0" r="4.7" fill="#ff0000"/>
<path d="M87.50 232.30v-6.5M87.50 18.00v6.5M138.46 232.30v-6.5M138.46 18.00v6.5M168.28 232.30v-4.0M168.28 18.00v4.0M189.43 232.30v-4.0M189.43 18.00v4.0M205.84 232.30v-6.5M205.84 18.00v6.5M219.24 232.30v-4.0M219.24 18.00v4.0M230.58 232.30v-4.0M230.58 18.00v4.0M240.39 232.30v-4.0M240.39 18.00v4.0M249.05 232.30v-4.0M249.05 18.00v4.0M256.80 232.30v-6.5M256.80 18.00v6.5M307.76 232.30v-6.5M307.76 18.00v6.5M337.58 232.30v-4.0M337.58 18.00v4.0M358.73 232.30v-4.0M358.73 18.00v4.0M375.14 232.30v-6.5M375.14 18.00v6.5M87.40 226.70h4.2M375.30 226.70h-4.2M87.40 221.36h4.2M375.30 221.36h-4.2M87.40 216.73h4.2M375.30 216.73h-4.2M87.40 212.65h4.2M375.30 212.65h-4.2M87.40 209.00h7.0M375.30 209.00h-7.0M87.40 184.98h4.2M375.30 184.98h-4.2M87.40 170.93h4.2M375.30 170.93h-4.2M87.40 160.96h4.2M375.30 160.96h-4.2M87.40 153.22h4.2M375.30 153.22h-4.2M87.40 146.90h4.2M375.30 146.90h-4.2M87.40 141.56h4.2M375.30 141.56h-4.2M87.40 136.93h4.2M375.30 136.93h-4.2M87.40 132.85h4.2M375.30 132.85h-4.2M87.40 129.20h7.0M375.30 129.20h-7.0M87.40 105.18h4.2M375.30 105.18h-4.2M87.40 91.13h4.2M375.30 91.13h-4.2M87.40 81.16h4.2M375.30 81.16h-4.2M87.40 73.42h4.2M375.30 73.42h-4.2M87.40 67.10h4.2M375.30 67.10h-4.2M87.40 61.76h4.2M375.30 61.76h-4.2M87.40 57.13h4.2M375.30 57.13h-4.2M87.40 53.05h4.2M375.30 53.05h-4.2M87.40 49.40h7.0M375.30 49.40h-7.0M87.40 25.38h4.2M375.30 25.38h-4.2" stroke="#222" stroke-width="1.0" fill="none"/>
<rect x="87.4" y="18.0" width="287.90" height="214.30" stroke="#1a1a1a" stroke-width="1.5" fill="none"/>
<g font-family="Liberation Sans, sans-serif" font-size="15" fill="#000"><text x="72.92" y="259.5">10</text><text x="90.21" y="251.4" font-size="10.0">10</text><text x="116.16" y="259.5">2x10</text><text x="149.29" y="251.4" font-size="10.0">10</text><text x="183.61" y="259.5">5x10</text><text x="216.73" y="251.4" font-size="10.0">10</text><text x="242.64" y="259.5">10</text><text x="259.93" y="251.4" font-size="10.0">11</text><text x="285.88" y="259.5">2x10</text><text x="319.01" y="251.4" font-size="10.0">11</text><text x="353.33" y="259.5">5x10</text><text x="386.45" y="251.4" font-size="10.0">11</text><text x="80.3" y="214.0" text-anchor="end">10</text><text x="80.3" y="134.2" text-anchor="end">100</text><text x="80.3" y="54.4" text-anchor="end">1000</text>
<text transform="translate(199.9,291.2) scale(1.1,1)" font-size="16">M</text><circle cx="215" cy="291.3" r="1.25"/>
<text x="222" y="291.2" font-size="16">(</text><text transform="translate(225.6,291.2) scale(1.12,1)" font-size="16">M</text>
<text x="239.8" y="298.4" font-size="11.2">sun</text><text x="257" y="291.2" font-size="16">)</text>
<g transform="translate(18.1,176.5) rotate(-90)" font-size="15.3">
<text x="-0.7" y="0">SFR</text><text x="34.1" y="0">(</text><text x="41.3" y="0" font-size="16">M</text>
<text x="54.6" y="6.0" font-size="10.2">sun</text><text x="75.3" y="0">yr</text>
<text x="88.6" y="-9.3" font-size="10.2">-1</text><text x="97.8" y="0">)</text></g>
<circle cx="116.9" cy="7.2" r="3.3"/>
<text x="146" y="10.8" font-size="12">PHIBSS z=1-2.5</text>
</g>
</svg>

<svg width="600" height="301" viewBox="0 0 600 301" style="position:absolute;left:0;top:0">
<defs><filter id="b2" x="-100%" y="-100%" width="300%" height="300%"><feGaussianBlur stdDeviation="2"/></filter><filter id="b2_5" x="-100%" y="-100%" width="300%" height="300%"><feGaussianBlur stdDeviation="2.5"/></filter><filter id="b3" x="-100%" y="-100%" width="300%" height="300%"><feGaussianBlur stdDeviation="3"/></filter><filter id="b3_5" x="-100%" y="-100%" width="300%" height="300%"><feGaussianBlur stdDeviation="3.5"/></filter><filter id="b4" x="-100%" y="-100%" width="300%" height="300%"><feGaussianBlur stdDeviation="4"/></filter><filter id="b5" x="-100%" y="-100%" width="300%" height="300%"><feGaussianBlur stdDeviation="5"/></filter><filter id="b6" x="-100%" y="-100%" width="300%" height="300%"><feGaussianBlur stdDeviation="6"/></filter><filter id="b8" x="-100%" y="-100%" width="300%" height="300%"><feGaussianBlur stdDeviation="8"/></filter><clipPath id="ic"><rect x="382.6" y="17.9" width="215.9" height="216.0"/></clipPath></defs>
<g clip-path="url(#ic)" style="isolation:isolate"><rect x="382.6" y="17.9" width="215.9" height="216.0" fill="#000"/><ellipse cx="410" cy="90" rx="8" ry="8" fill="rgb(4,12,4)" opacity="1.0" filter="url(#b5)" style="mix-blend-mode:screen"/><ellipse cx="430" cy="65" rx="7" ry="7" fill="rgb(3,9,3)" opacity="1.0" filter="url(#b5)" style="mix-blend-mode:screen"/><ellipse cx="425" cy="190" rx="8" ry="8" fill="rgb(3,9,3)" opacity="1.0" filter="url(#b5)" style="mix-blend-mode:screen"/><ellipse cx="450" cy="120" rx="8" ry="8" fill="rgb(3,9,3)" opacity="1.0" filter="url(#b5)" style="mix-blend-mode:screen"/><ellipse cx="505" cy="135" rx="28" ry="34" fill="rgb(36,26,10)" opacity="1.0" filter="url(#b8)" style="mix-blend-mode:screen"/><ellipse cx="480" cy="133" rx="8" ry="24" fill="rgb(24,45,20)" opacity="1.0" filter="url(#b6)" style="mix-blend-mode:screen"/><ellipse cx="523" cy="133" rx="13" ry="24" fill="rgb(95,38,10)" opacity="1.0" filter="url(#b6)" style="mix-blend-mode:screen"/><ellipse cx="533" cy="128" rx="6" ry="16" fill="rgb(55,24,7)" opacity="1.0" filter="url(#b5)" style="mix-blend-mode:screen"/><ellipse cx="507" cy="102" rx="14" ry="7" fill="rgb(50,30,10)" opacity="1.0" filter="url(#b5)" style="mix-blend-mode:screen"/><ellipse cx="495" cy="163" rx="16" ry="9" fill="rgb(85,58,22)" opacity="1.0" filter="url(#b5)" style="mix-blend-mode:screen"/><ellipse cx="484" cy="104" rx="6" ry="6" fill="rgb(30,62,25)" opacity="1.0" filter="url(#b4)" style="mix-blend-mode:screen"/><ellipse cx="477" cy="158" rx="6" ry="6" fill="rgb(45,75,42)" opacity="1.0" filter="url(#b3)" style="mix-blend-mode:screen"/><ellipse cx="526" cy="155" rx="8" ry="7" fill="rgb(60,30,8)" opacity="1.0" filter="url(#b4)" style="mix-blend-mode:screen"/><ellipse cx="493" cy="171" rx="6" ry="6" fill="rgb(110,50,15)" opacity="1.0" filter="url(#b4)" style="mix-blend-mode:screen"/><ellipse cx="489" cy="185" rx="6" ry="7" fill="rgb(85,82,28)" opacity="1.0" filter="url(#b4)" style="mix-blend-mode:screen"/><ellipse cx="484" cy="200" rx="6" ry="6" fill="rgb(125,58,16)" opacity="1.0" filter="url(#b4)" style="mix-blend-mode:screen"/><ellipse cx="500" cy="200" rx="8" ry="10" fill="rgb(40,20,8)" opacity="1.0" filter="url(#b5)" style="mix-blend-mode:screen"/><ellipse cx="500" cy="100" rx="10" ry="5" fill="rgb(30,25,10)" opacity="1.0" filter="url(#b3)" style="mix-blend-mode:screen"/><ellipse cx="490" cy="106" rx="5" ry="5" fill="rgb(40,60,30)" opacity="1.0" filter="url(#b3)" style="mix-blend-mode:screen"/><ellipse cx="495.5" cy="136" rx="11" ry="22" fill="rgb(45,80,70)" opacity="1.0" filter="url(#b4)" style="mix-blend-mode:screen" transform="rotate(15 495.5 136)"/><ellipse cx="495.5" cy="136" rx="6" ry="15" fill="rgb(70,120,115)" opacity="1.0" filter="url(#b3)" style="mix-blend-mode:screen" transform="rotate(15 495.5 136)"/><ellipse cx="498.5" cy="127" rx="7.5" ry="9" fill="rgb(80,140,145)" opacity="1.0" filter="url(#b2_5)" style="mix-blend-mode:screen"/><ellipse cx="498.5" cy="127.5" rx="4.5" ry="5.5" fill="rgb(100,175,185)" opacity="1.0" filter="url(#b2)" style="mix-blend-mode:screen"/><ellipse cx="492.5" cy="144" rx="7" ry="7" fill="rgb(100,140,125)" opacity="1.0" filter="url(#b2_5)" style="mix-blend-mode:screen"/><ellipse cx="492.5" cy="144" rx="3.5" ry="3.5" fill="rgb(150,190,170)" opacity="1.0" filter="url(#b2)" style="mix-blend-mode:screen"/><ellipse cx="494" cy="155" rx="4" ry="8" fill="rgb(100,75,65)" opacity="1.0" filter="url(#b3)" style="mix-blend-mode:screen"/><ellipse cx="506" cy="133" rx="5" ry="10" fill="rgb(70,30,10)" opacity="1.0" filter="url(#b3)" style="mix-blend-mode:screen"/><ellipse cx="487" cy="118" rx="6" ry="6" fill="rgb(35,45,18)" opacity="1.0" filter="url(#b4)" style="mix-blend-mode:screen"/><ellipse cx="512" cy="128" rx="8" ry="10" fill="rgb(85,35,10)" opacity="1.0" filter="url(#b4)" style="mix-blend-mode:screen"/><ellipse cx="512.8" cy="111.5" rx="6" ry="6" fill="rgb(75,110,70)" opacity="1.0" filter="url(#b3)" style="mix-blend-mode:screen"/><ellipse cx="505" cy="120" rx="5" ry="5" fill="rgb(40,20,8)" opacity="1.0" filter="url(#b3)" style="mix-blend-mode:screen"/><ellipse cx="508" cy="140" rx="5" ry="7" fill="rgb(130,50,20)" opacity="1.0" filter="url(#b3)" style="mix-blend-mode:screen"/><ellipse cx="516.5" cy="142" rx="9" ry="9" fill="rgb(140,45,12)" opacity="1.0" filter="url(#b4)" style="mix-blend-mode:screen"/><ellipse cx="516.5" cy="142" rx="5.5" ry="5.5" fill="rgb(210,45,15)" opacity="1.0" filter="url(#b2_5)" style="mix-blend-mode:screen"/><ellipse cx="477.5" cy="35.5" rx="11" ry="11" fill="rgb(30,90,55)" opacity="1.0" filter="url(#b4)" style="mix-blend-mode:screen"/><ellipse cx="479" cy="40" rx="6" ry="5" fill="rgb(90,50,85)" opacity="1.0" filter="url(#b3)" style="mix-blend-mode:screen"/><ellipse cx="478" cy="36.5" rx="5.5" ry="5.5" fill="rgb(175,240,230)" opacity="1.0" filter="url(#b2_5)" style="mix-blend-mode:screen"/><ellipse cx="406.6" cy="159" rx="8" ry="8" fill="rgb(15,55,35)" opacity="1.0" filter="url(#b3_5)" style="mix-blend-mode:screen"/><ellipse cx="406.6" cy="159.5" rx="4" ry="4" fill="rgb(45,110,90)" opacity="1.0" filter="url(#b2)" style="mix-blend-mode:screen"/><ellipse cx="457.5" cy="193" rx="8" ry="8" fill="rgb(110,28,8)" opacity="1.0" filter="url(#b3)" style="mix-blend-mode:screen"/><ellipse cx="457.5" cy="193" rx="4" ry="4" fill="rgb(235,70,30)" opacity="1.0" filter="url(#b2)" style="mix-blend-mode:screen"/><ellipse cx="506.9" cy="206.1" rx="6" ry="6" fill="rgb(45,90,110)" opacity="1.0" filter="url(#b3)" style="mix-blend-mode:screen"/><ellipse cx="506.9" cy="206.1" rx="3" ry="3" fill="rgb(110,170,195)" opacity="1.0" filter="url(#b2)" style="mix-blend-mode:screen"/><ellipse cx="479" cy="214" rx="11" ry="7" fill="rgb(75,85,60)" opacity="1.0" filter="url(#b4)" style="mix-blend-mode:screen"/><ellipse cx="478.5" cy="215" rx="6" ry="4.5" fill="rgb(140,150,120)" opacity="1.0" filter="url(#b3)" style="mix-blend-mode:screen"/></g>
<path d="M507.5 138.5h6M510.5 135.5v6" stroke="#f0e8d8" stroke-width="1"/>
<rect x="567.9" y="86.3" width="2.3" height="109.3" fill="#e8e030"/>
<g font-family="Liberation Sans, sans-serif" font-size="11" fill="#f0f0f0">
<text x="452.7" y="40.6">A</text>
<text x="400.6" y="145.9">B</text>
<text x="442.4" y="182.1">E</text>
<text x="457.8" y="217.9">D</text>
<text x="519.3" y="212.4">C</text>
</g>
<g font-family="Liberation Serif, serif" font-size="11" fill="#e6de5a">
<text x="565" y="64.2">3"</text>
<text x="552" y="76.2" font-size="10.6">26 kpc</text>
</g>
<g font-family="Liberation Serif, serif" font-size="12.8" font-weight="bold">
<text x="395.8" y="223.7" fill="rgb(45,80,195)">V</text><text x="407.4" y="223.7" fill="rgb(60,160,70)">I</text><text x="414.9" y="223.7" fill="rgb(200,35,35)">H</text>
</g>
<text x="427.3" y="10" font-family="Liberation Serif, serif" font-size="14.5" fill="#000">EGS13011166 z=1.53</text>
</svg>
</body></html>
